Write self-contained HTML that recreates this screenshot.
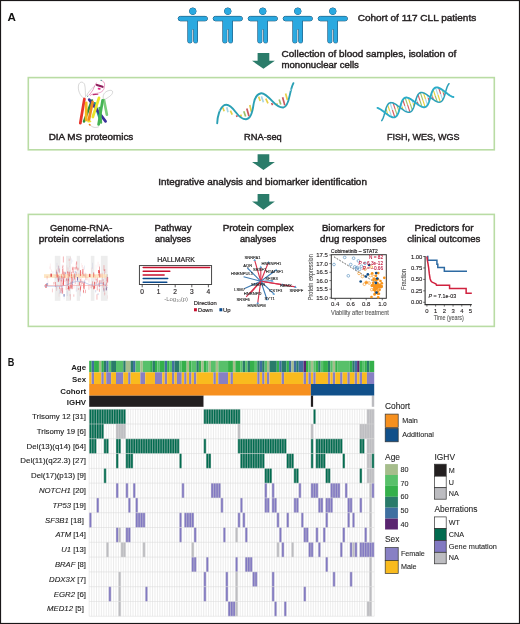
<!DOCTYPE html>
<html><head><meta charset="utf-8"><title>CLL figure</title>
<style>
html,body{margin:0;padding:0;background:#fff;}
body{width:520px;height:624px;overflow:hidden;}
svg{display:block;will-change:transform;}
text{font-family:"Liberation Sans", sans-serif;}
</style></head><body>
<svg width="520" height="624" viewBox="0 0 520 624">

<g id="panelA">
<text x="7.40" y="21.20" font-size="11.6" text-anchor="start" font-weight="bold" font-style="normal" fill="#111" textLength="8.40" lengthAdjust="spacingAndGlyphs">A</text>
<g fill="#2aa9e0" stroke="#184a6c" stroke-width="1.0">
<circle cx="192.80" cy="11.2" r="3.25"/>
<rect x="178.20" y="16.4" width="29.2" height="4.4" rx="2.2"/>
<path d="M187.90,18 L197.40,18 L197.40,41.6 Q197.40,42.8 196.30,42.8 L194.90,42.8 Q193.80,42.8 193.80,41.6 L193.80,29.5 Q192.80,28.3 191.80,29.5 L191.80,41.6 Q191.80,42.8 190.70,42.8 L189.00,42.8 Q187.90,42.8 187.90,41.6 Z"/>
<circle cx="227.80" cy="11.2" r="3.25"/>
<rect x="213.20" y="16.4" width="29.2" height="4.4" rx="2.2"/>
<path d="M222.90,18 L232.40,18 L232.40,41.6 Q232.40,42.8 231.30,42.8 L229.90,42.8 Q228.80,42.8 228.80,41.6 L228.80,29.5 Q227.80,28.3 226.80,29.5 L226.80,41.6 Q226.80,42.8 225.70,42.8 L224.00,42.8 Q222.90,42.8 222.90,41.6 Z"/>
<circle cx="262.80" cy="11.2" r="3.25"/>
<rect x="248.20" y="16.4" width="29.2" height="4.4" rx="2.2"/>
<path d="M257.90,18 L267.40,18 L267.40,41.6 Q267.40,42.8 266.30,42.8 L264.90,42.8 Q263.80,42.8 263.80,41.6 L263.80,29.5 Q262.80,28.3 261.80,29.5 L261.80,41.6 Q261.80,42.8 260.70,42.8 L259.00,42.8 Q257.90,42.8 257.90,41.6 Z"/>
<circle cx="297.80" cy="11.2" r="3.25"/>
<rect x="283.20" y="16.4" width="29.2" height="4.4" rx="2.2"/>
<path d="M292.90,18 L302.40,18 L302.40,41.6 Q302.40,42.8 301.30,42.8 L299.90,42.8 Q298.80,42.8 298.80,41.6 L298.80,29.5 Q297.80,28.3 296.80,29.5 L296.80,41.6 Q296.80,42.8 295.70,42.8 L294.00,42.8 Q292.90,42.8 292.90,41.6 Z"/>
<circle cx="332.80" cy="11.2" r="3.25"/>
<rect x="318.20" y="16.4" width="29.2" height="4.4" rx="2.2"/>
<path d="M327.90,18 L337.40,18 L337.40,41.6 Q337.40,42.8 336.30,42.8 L334.90,42.8 Q333.80,42.8 333.80,41.6 L333.80,29.5 Q332.80,28.3 331.80,29.5 L331.80,41.6 Q331.80,42.8 330.70,42.8 L329.00,42.8 Q327.90,42.8 327.90,41.6 Z"/>
</g>
<g fill="#2aa9e0">
<circle cx="192.80" cy="11.2" r="3.25"/>
<rect x="178.20" y="16.4" width="29.2" height="4.4" rx="2.2"/>
<path d="M187.90,18 L197.40,18 L197.40,41.6 Q197.40,42.8 196.30,42.8 L194.90,42.8 Q193.80,42.8 193.80,41.6 L193.80,29.5 Q192.80,28.3 191.80,29.5 L191.80,41.6 Q191.80,42.8 190.70,42.8 L189.00,42.8 Q187.90,42.8 187.90,41.6 Z"/>
<circle cx="227.80" cy="11.2" r="3.25"/>
<rect x="213.20" y="16.4" width="29.2" height="4.4" rx="2.2"/>
<path d="M222.90,18 L232.40,18 L232.40,41.6 Q232.40,42.8 231.30,42.8 L229.90,42.8 Q228.80,42.8 228.80,41.6 L228.80,29.5 Q227.80,28.3 226.80,29.5 L226.80,41.6 Q226.80,42.8 225.70,42.8 L224.00,42.8 Q222.90,42.8 222.90,41.6 Z"/>
<circle cx="262.80" cy="11.2" r="3.25"/>
<rect x="248.20" y="16.4" width="29.2" height="4.4" rx="2.2"/>
<path d="M257.90,18 L267.40,18 L267.40,41.6 Q267.40,42.8 266.30,42.8 L264.90,42.8 Q263.80,42.8 263.80,41.6 L263.80,29.5 Q262.80,28.3 261.80,29.5 L261.80,41.6 Q261.80,42.8 260.70,42.8 L259.00,42.8 Q257.90,42.8 257.90,41.6 Z"/>
<circle cx="297.80" cy="11.2" r="3.25"/>
<rect x="283.20" y="16.4" width="29.2" height="4.4" rx="2.2"/>
<path d="M292.90,18 L302.40,18 L302.40,41.6 Q302.40,42.8 301.30,42.8 L299.90,42.8 Q298.80,42.8 298.80,41.6 L298.80,29.5 Q297.80,28.3 296.80,29.5 L296.80,41.6 Q296.80,42.8 295.70,42.8 L294.00,42.8 Q292.90,42.8 292.90,41.6 Z"/>
<circle cx="332.80" cy="11.2" r="3.25"/>
<rect x="318.20" y="16.4" width="29.2" height="4.4" rx="2.2"/>
<path d="M327.90,18 L337.40,18 L337.40,41.6 Q337.40,42.8 336.30,42.8 L334.90,42.8 Q333.80,42.8 333.80,41.6 L333.80,29.5 Q332.80,28.3 331.80,29.5 L331.80,41.6 Q331.80,42.8 330.70,42.8 L329.00,42.8 Q327.90,42.8 327.90,41.6 Z"/>
</g>
<text x="357.70" y="21.10" font-size="9.6" text-anchor="start" font-weight="normal" font-style="normal" fill="#231f20" stroke="#231f20" stroke-width="0.42" textLength="118.50" lengthAdjust="spacingAndGlyphs">Cohort of 117 CLL patients</text>
<path d="M257.60,52.90 L269.30,52.90 L269.30,60.80 L274.85,60.80 L263.45,68.80 L252.05,60.80 L257.60,60.80 Z" fill="#2b7c6a"/>
<text x="281.50" y="57.00" font-size="9.2" text-anchor="start" font-weight="normal" font-style="normal" fill="#231f20" stroke="#231f20" stroke-width="0.42" textLength="174.70" lengthAdjust="spacingAndGlyphs">Collection of blood samples, isolation of</text>
<text x="281.50" y="67.60" font-size="9.2" text-anchor="start" font-weight="normal" font-style="normal" fill="#231f20" stroke="#231f20" stroke-width="0.42" textLength="77.40" lengthAdjust="spacingAndGlyphs">mononuclear cells</text>
<rect x="28.3" y="77.6" width="466" height="72.2" fill="none" stroke="#b9dca4" stroke-width="1.6"/>
<text x="48.70" y="140.20" font-size="9.2" text-anchor="start" font-weight="normal" font-style="normal" fill="#231f20" stroke="#231f20" stroke-width="0.42" textLength="84.60" lengthAdjust="spacingAndGlyphs">DIA MS proteomics</text>
<text x="244.10" y="140.20" font-size="9.2" text-anchor="start" font-weight="normal" font-style="normal" fill="#231f20" stroke="#231f20" stroke-width="0.42" textLength="37.70" lengthAdjust="spacingAndGlyphs">RNA-seq</text>
<text x="386.90" y="140.00" font-size="9.2" text-anchor="start" font-weight="normal" font-style="normal" fill="#231f20" stroke="#231f20" stroke-width="0.42" textLength="72.70" lengthAdjust="spacingAndGlyphs">FISH, WES, WGS</text>
<path d="M257.60,154.20 L269.30,154.20 L269.30,162.00 L274.85,162.00 L263.45,170.00 L252.05,162.00 L257.60,162.00 Z" fill="#2b7c6a"/>
<text x="158.30" y="185.40" font-size="9.2" text-anchor="start" font-weight="normal" font-style="normal" fill="#231f20" stroke="#231f20" stroke-width="0.42" textLength="208.60" lengthAdjust="spacingAndGlyphs">Integrative analysis and biomarker identification</text>
<path d="M257.60,193.90 L269.30,193.90 L269.30,201.40 L274.85,201.40 L263.45,209.70 L252.05,201.40 L257.60,201.40 Z" fill="#2b7c6a"/>
<rect x="28.3" y="214.4" width="466" height="112" fill="none" stroke="#b9dca4" stroke-width="1.6"/>
<text x="50.00" y="231.10" font-size="9.6" text-anchor="start" font-weight="normal" font-style="normal" fill="#231f20" stroke="#231f20" stroke-width="0.42" textLength="62.30" lengthAdjust="spacingAndGlyphs">Genome-RNA-</text>
<text x="38.70" y="242.40" font-size="9.6" text-anchor="start" font-weight="normal" font-style="normal" fill="#231f20" stroke="#231f20" stroke-width="0.42" textLength="85.50" lengthAdjust="spacingAndGlyphs">protein correlations</text>
<text x="154.60" y="231.10" font-size="9.6" text-anchor="start" font-weight="normal" font-style="normal" fill="#231f20" stroke="#231f20" stroke-width="0.42" textLength="36.90" lengthAdjust="spacingAndGlyphs">Pathway</text>
<text x="155.00" y="242.40" font-size="9.6" text-anchor="start" font-weight="normal" font-style="normal" fill="#231f20" stroke="#231f20" stroke-width="0.42" textLength="35.80" lengthAdjust="spacingAndGlyphs">analyses</text>
<text x="222.70" y="231.10" font-size="9.6" text-anchor="start" font-weight="normal" font-style="normal" fill="#231f20" stroke="#231f20" stroke-width="0.42" textLength="71.10" lengthAdjust="spacingAndGlyphs">Protein complex</text>
<text x="240.00" y="242.40" font-size="9.6" text-anchor="start" font-weight="normal" font-style="normal" fill="#231f20" stroke="#231f20" stroke-width="0.42" textLength="36.20" lengthAdjust="spacingAndGlyphs">analyses</text>
<text x="321.90" y="231.10" font-size="9.6" text-anchor="start" font-weight="normal" font-style="normal" fill="#231f20" stroke="#231f20" stroke-width="0.42" textLength="62.90" lengthAdjust="spacingAndGlyphs">Biomarkers for</text>
<text x="320.00" y="242.40" font-size="9.6" text-anchor="start" font-weight="normal" font-style="normal" fill="#231f20" stroke="#231f20" stroke-width="0.42" textLength="66.70" lengthAdjust="spacingAndGlyphs">drug responses</text>
<text x="414.60" y="231.10" font-size="9.6" text-anchor="start" font-weight="normal" font-style="normal" fill="#231f20" stroke="#231f20" stroke-width="0.42" textLength="59.10" lengthAdjust="spacingAndGlyphs">Predictors for</text>
<text x="407.30" y="242.40" font-size="9.6" text-anchor="start" font-weight="normal" font-style="normal" fill="#231f20" stroke="#231f20" stroke-width="0.42" textLength="73.10" lengthAdjust="spacingAndGlyphs">clinical outcomes</text>
<g fill="none" stroke="#a8a8a8" stroke-width="0.45">
<path d="M84.2,98.6 C80,96 77.5,90 78.6,85 C79.6,81 83.5,81.5 84.6,84.5 C85.6,88 85.2,93 85.6,97.5"/>
<path d="M103.5,99.6 C102.5,96 103.5,93 107,91.2 C110,89.8 113,90 112.6,92.5 C112,95.5 108,97.5 104.8,99.5"/>
<path d="M89.8,124.6 C92,127.6 96,128.2 99,126.6"/>
<path d="M86.5,96 C88,92 92,88 95,86"/>
</g>
<g fill="none" stroke="#d2307f" stroke-width="0.45">
<path d="M100.6,80.3 C103,80.8 105,82.5 104.6,85 C104.3,87.5 104.2,89 103,90.5 C101.5,92.2 99.5,93 96.5,93.4 C93.5,93.8 91.5,94.2 90,95.6"/>
<path d="M96.5,82.6 C95,85 94,87.5 93,89.8 C91.8,92 90,94 88.5,95.6"/>
</g>
<path d="M96.9,84.9 L102.6,86.8" stroke="#8e1d5c" stroke-width="2.1" stroke-linecap="round"/>
<path d="M98.6,88.6 L99.8,88.9" stroke="#e2288a" stroke-width="1.8" stroke-linecap="round"/>
<path d="M93.2,94.6 L97.8,94.2" stroke="#b8306e" stroke-width="1.1" stroke-linecap="round"/>
<circle cx="101.2" cy="80.4" r="0.55" fill="#2a9a8a"/>
<circle cx="87.6" cy="96.2" r="0.55" fill="#2a9a8a"/>
<line x1="92.0" y1="100.5" x2="84.0" y2="121.5" stroke="#2f8e3c" stroke-width="2.45" stroke-linecap="round"/>
<line x1="104.0" y1="100.0" x2="106.9" y2="114.7" stroke="#7ccd7c" stroke-width="2.65" stroke-linecap="round"/>
<line x1="94.8" y1="103.2" x2="99.6" y2="118.0" stroke="#1f9a86" stroke-width="2.45" stroke-linecap="round"/>
<line x1="89.2" y1="99.6" x2="105.6" y2="121.4" stroke="#3a2f9c" stroke-width="2.65" stroke-linecap="round"/>
<line x1="99.6" y1="108.0" x2="101.0" y2="122.5" stroke="#4cb25a" stroke-width="2.45" stroke-linecap="round"/>
<line x1="84.4" y1="99.0" x2="80.3" y2="123.2" stroke="#e8352b" stroke-width="2.75" stroke-linecap="round"/>
<line x1="86.2" y1="102.8" x2="86.2" y2="120.0" stroke="#f4b71c" stroke-width="2.75" stroke-linecap="round"/>
<line x1="92.6" y1="102.0" x2="88.7" y2="120.6" stroke="#ee8a1e" stroke-width="2.75" stroke-linecap="round"/>
<line x1="99.0" y1="97.8" x2="92.8" y2="117.0" stroke="#e9e52c" stroke-width="2.75" stroke-linecap="round"/>
<line x1="102.6" y1="100.3" x2="98.6" y2="124.4" stroke="#44b453" stroke-width="2.75" stroke-linecap="round"/>
<line x1="88.2" y1="121.6" x2="90.4" y2="121.4" stroke="#f0e030" stroke-width="1.8" stroke-linecap="round"/>
<line x1="89.5" y1="124.6" x2="89.9" y2="124.9" stroke="#ee7a1e" stroke-width="1.6" stroke-linecap="round"/>
<line x1="222.6" y1="107.2" x2="224.2" y2="111.2" stroke="#e6cf48" stroke-width="1.7" stroke-linecap="butt"/>
<line x1="226.8" y1="107.2" x2="228.0" y2="112.2" stroke="#a6d6e6" stroke-width="1.7" stroke-linecap="butt"/>
<line x1="230.4" y1="110.6" x2="232.2" y2="114.6" stroke="#e6cf48" stroke-width="1.7" stroke-linecap="butt"/>
<line x1="236.4" y1="115.4" x2="237.2" y2="116.8" stroke="#c8585e" stroke-width="1.7" stroke-linecap="butt"/>
<line x1="240.6" y1="114.6" x2="241.4" y2="116.8" stroke="#e6cf48" stroke-width="1.7" stroke-linecap="butt"/>
<line x1="243.8" y1="111.2" x2="245.6" y2="116.6" stroke="#9cbf6a" stroke-width="1.7" stroke-linecap="butt"/>
<line x1="246.8" y1="108.4" x2="249.0" y2="116.2" stroke="#c8585e" stroke-width="1.7" stroke-linecap="butt"/>
<line x1="249.8" y1="105.0" x2="251.4" y2="111.8" stroke="#e6cf48" stroke-width="1.7" stroke-linecap="butt"/>
<line x1="258.6" y1="96.6" x2="260.2" y2="101.0" stroke="#e6cf48" stroke-width="1.7" stroke-linecap="butt"/>
<line x1="261.4" y1="96.4" x2="263.4" y2="102.2" stroke="#a6d6e6" stroke-width="1.7" stroke-linecap="butt"/>
<line x1="265.8" y1="98.6" x2="268.0" y2="103.4" stroke="#e6cf48" stroke-width="1.7" stroke-linecap="butt"/>
<line x1="271.6" y1="103.0" x2="272.6" y2="105.2" stroke="#c8585e" stroke-width="1.7" stroke-linecap="butt"/>
<line x1="276.6" y1="103.4" x2="277.4" y2="105.0" stroke="#e6cf48" stroke-width="1.7" stroke-linecap="butt"/>
<line x1="279.2" y1="99.4" x2="280.8" y2="104.6" stroke="#9cbf6a" stroke-width="1.7" stroke-linecap="butt"/>
<line x1="282.6" y1="97.2" x2="284.8" y2="105.4" stroke="#c8585e" stroke-width="1.7" stroke-linecap="butt"/>
<line x1="285.6" y1="93.6" x2="287.4" y2="100.0" stroke="#e6cf48" stroke-width="1.7" stroke-linecap="butt"/>
<path d="M217.2,123.2 C217.4,117 219.5,108 224.2,105.2 C228,103.2 232,107 235.8,112.2 C239,116.5 242,119.4 246.2,119.2 C250.5,119 252.6,112 253.6,104 C254.4,98.5 257,94 261.2,93.2 C264.5,92.8 268,96.5 272.3,101.1 C275.5,104.6 279,107.8 283.4,107.5 C287,107.2 288.6,101 289.9,94.6 C290.8,90.5 291.8,86.5 293.4,83.2" fill="none" stroke="#2aa0b4" stroke-width="1.9" stroke-linecap="round"/>
<path d="M218.6,111.6 L219.4,110" stroke="#a6d6e6" stroke-width="1" />
<path d="M290.4,90.8 L291.2,88.8" stroke="#a6d6e6" stroke-width="1" />
<line x1="387.96" y1="114.89" x2="386.94" y2="111.82" stroke="#e9d03a" stroke-width="1.15"/>
<line x1="386.94" y1="111.82" x2="385.91" y2="108.76" stroke="#9cc46c" stroke-width="1.15"/>
<line x1="391.70" y1="117.00" x2="389.67" y2="110.91" stroke="#a8d8ea" stroke-width="1.15"/>
<line x1="389.67" y1="110.91" x2="387.64" y2="104.83" stroke="#e9d03a" stroke-width="1.15"/>
<line x1="394.81" y1="117.21" x2="392.40" y2="110.00" stroke="#d85a5f" stroke-width="1.15"/>
<line x1="392.40" y1="110.00" x2="389.99" y2="102.79" stroke="#a8d8ea" stroke-width="1.15"/>
<line x1="397.16" y1="115.17" x2="395.13" y2="109.09" stroke="#9cc46c" stroke-width="1.15"/>
<line x1="395.13" y1="109.09" x2="393.10" y2="103.00" stroke="#d85a5f" stroke-width="1.15"/>
<line x1="398.89" y1="111.24" x2="397.86" y2="108.18" stroke="#e9d03a" stroke-width="1.15"/>
<line x1="397.86" y1="108.18" x2="396.84" y2="105.11" stroke="#9cc46c" stroke-width="1.15"/>
<line x1="401.09" y1="103.69" x2="402.11" y2="106.76" stroke="#a8d8ea" stroke-width="1.15"/>
<line x1="402.11" y1="106.76" x2="403.14" y2="109.83" stroke="#e9d03a" stroke-width="1.15"/>
<line x1="402.81" y1="99.76" x2="404.84" y2="105.84" stroke="#d85a5f" stroke-width="1.15"/>
<line x1="404.84" y1="105.84" x2="406.88" y2="111.93" stroke="#a8d8ea" stroke-width="1.15"/>
<line x1="405.17" y1="97.72" x2="407.58" y2="104.93" stroke="#9cc46c" stroke-width="1.15"/>
<line x1="407.58" y1="104.93" x2="409.98" y2="112.14" stroke="#d85a5f" stroke-width="1.15"/>
<line x1="408.27" y1="97.93" x2="410.31" y2="104.02" stroke="#e9d03a" stroke-width="1.15"/>
<line x1="410.31" y1="104.02" x2="412.34" y2="110.11" stroke="#9cc46c" stroke-width="1.15"/>
<line x1="412.01" y1="100.04" x2="413.04" y2="103.11" stroke="#a8d8ea" stroke-width="1.15"/>
<line x1="413.04" y1="103.11" x2="414.06" y2="106.18" stroke="#e9d03a" stroke-width="1.15"/>
<line x1="418.31" y1="104.76" x2="417.29" y2="101.69" stroke="#d85a5f" stroke-width="1.15"/>
<line x1="417.29" y1="101.69" x2="416.26" y2="98.62" stroke="#a8d8ea" stroke-width="1.15"/>
<line x1="422.05" y1="106.86" x2="420.02" y2="100.77" stroke="#9cc46c" stroke-width="1.15"/>
<line x1="420.02" y1="100.77" x2="417.99" y2="94.69" stroke="#d85a5f" stroke-width="1.15"/>
<line x1="425.16" y1="107.07" x2="422.75" y2="99.86" stroke="#e9d03a" stroke-width="1.15"/>
<line x1="422.75" y1="99.86" x2="420.34" y2="92.65" stroke="#9cc46c" stroke-width="1.15"/>
<line x1="427.52" y1="105.04" x2="425.48" y2="98.95" stroke="#a8d8ea" stroke-width="1.15"/>
<line x1="425.48" y1="98.95" x2="423.45" y2="92.86" stroke="#e9d03a" stroke-width="1.15"/>
<line x1="429.24" y1="101.11" x2="428.22" y2="98.04" stroke="#d85a5f" stroke-width="1.15"/>
<line x1="428.22" y1="98.04" x2="427.19" y2="94.97" stroke="#a8d8ea" stroke-width="1.15"/>
<line x1="431.44" y1="93.55" x2="432.46" y2="96.62" stroke="#9cc46c" stroke-width="1.15"/>
<line x1="432.46" y1="96.62" x2="433.49" y2="99.69" stroke="#d85a5f" stroke-width="1.15"/>
<line x1="433.16" y1="89.62" x2="435.20" y2="95.71" stroke="#e9d03a" stroke-width="1.15"/>
<line x1="435.20" y1="95.71" x2="437.23" y2="101.79" stroke="#9cc46c" stroke-width="1.15"/>
<line x1="435.52" y1="87.58" x2="437.93" y2="94.79" stroke="#a8d8ea" stroke-width="1.15"/>
<line x1="437.93" y1="94.79" x2="440.34" y2="102.00" stroke="#e9d03a" stroke-width="1.15"/>
<line x1="438.63" y1="87.79" x2="440.66" y2="93.88" stroke="#d85a5f" stroke-width="1.15"/>
<line x1="440.66" y1="93.88" x2="442.69" y2="99.97" stroke="#a8d8ea" stroke-width="1.15"/>
<line x1="442.37" y1="89.90" x2="443.39" y2="92.97" stroke="#9cc46c" stroke-width="1.15"/>
<line x1="443.39" y1="92.97" x2="444.42" y2="96.04" stroke="#d85a5f" stroke-width="1.15"/>
<path d="M381.72,120.63 L382.16,119.97 L382.57,119.21 L382.95,118.37 L383.31,117.46 L383.65,116.49 L383.98,115.48 L384.29,114.42 L384.59,113.34 L384.89,112.25 L385.19,111.17 L385.50,110.10 L385.81,109.06 L386.14,108.07 L386.49,107.13 L386.87,106.25 L387.26,105.46 L387.69,104.75 L388.15,104.13 L388.64,103.61 L389.16,103.20 L389.72,102.89 L390.32,102.70 L390.96,102.61 L391.63,102.64 L392.33,102.76 L393.07,102.99 L393.84,103.31 L394.64,103.72 L395.47,104.20 L396.31,104.74 L397.18,105.34 L398.05,105.99 L398.94,106.66 L399.83,107.35 L400.73,108.04 L401.62,108.72 L402.50,109.37 L403.37,109.99 L404.22,110.55 L405.05,111.06 L405.86,111.49 L406.64,111.84 L407.39,112.10 L408.11,112.26 L408.79,112.32 L409.44,112.27 L410.05,112.12 L410.62,111.85 L411.16,111.47 L411.67,110.99 L412.13,110.41 L412.57,109.73 L412.98,108.96 L413.36,108.11 L413.71,107.20 L414.05,106.22 L414.37,105.19 L414.68,104.13 L414.98,103.05 L415.28,101.96 L415.58,100.88 L415.89,99.82 L416.21,98.78 L416.54,97.79 L416.90,96.86 L417.27,96.00 L417.67,95.21 L418.10,94.52 L418.56,93.91 L419.06,93.41 L419.59,93.01 L420.16,92.72 L420.76,92.54 L421.40,92.47 L422.08,92.51 L422.79,92.65 L423.53,92.89 L424.30,93.23 L425.11,93.64 L425.93,94.13 L426.78,94.69 L427.65,95.29 L428.53,95.94 L429.42,96.62 L430.31,97.31 L431.20,97.99 L432.09,98.67 L432.97,99.32 L433.84,99.93 L434.69,100.49 L435.52,100.98 L436.32,101.41 L437.10,101.74 L437.85,101.99 L438.56,102.14 L439.24,102.18 L439.88,102.12 L440.48,101.95 L441.05,101.67 L441.59,101.28 L442.08,100.78 L442.55,100.18 L442.98,99.49 L443.38,98.71 L443.76,97.85 L444.11,96.93 L444.45,95.94 L444.77,94.91 L445.08,93.85 L445.38,92.76 L445.68,91.67 L445.98,90.59 L446.29,89.53 L446.61,88.50 L446.94,87.52 L447.30,86.60 L447.68,85.75 L448.08,84.97 L448.52,84.29 L448.98,83.70" fill="none" stroke="#2a9fb8" stroke-width="1.5" stroke-linecap="round" stroke-linejoin="round"/>
<path d="M377.47,107.92 L378.22,108.19 L379.01,108.54 L379.82,108.98 L380.65,109.49 L381.51,110.07 L382.38,110.69 L383.26,111.34 L384.15,112.02 L385.04,112.71 L385.94,113.40 L386.82,114.07 L387.70,114.71 L388.56,115.31 L389.41,115.85 L390.23,116.32 L391.02,116.72 L391.79,117.03 L392.53,117.25 L393.23,117.37 L393.90,117.38 L394.53,117.29 L395.13,117.08 L395.68,116.77 L396.21,116.35 L396.70,115.82 L397.15,115.20 L397.57,114.48 L397.97,113.67 L398.34,112.80 L398.68,111.85 L399.01,110.85 L399.33,109.81 L399.64,108.74 L399.94,107.65 L400.24,106.56 L400.54,105.49 L400.85,104.43 L401.18,103.42 L401.52,102.45 L401.88,101.55 L402.26,100.72 L402.68,99.97 L403.12,99.31 L403.60,98.75 L404.11,98.29 L404.65,97.94 L405.24,97.70 L405.85,97.57 L406.51,97.55 L407.20,97.63 L407.93,97.81 L408.68,98.09 L409.47,98.46 L410.28,98.91 L411.12,99.43 L411.98,100.01 L412.85,100.64 L413.73,101.30 L414.63,101.98 L415.52,102.67 L416.41,103.36 L417.30,104.02 L418.17,104.66 L419.03,105.25 L419.87,105.78 L420.69,106.24 L421.49,106.63 L422.25,106.93 L422.98,107.14 L423.68,107.24 L424.34,107.24 L424.97,107.13 L425.56,106.91 L426.11,106.58 L426.63,106.14 L427.11,105.60 L427.56,104.97 L427.98,104.23 L428.37,103.42 L428.74,102.53 L429.08,101.58 L429.41,100.57 L429.73,99.52 L430.03,98.45 L430.33,97.36 L430.63,96.28 L430.93,95.20 L431.25,94.15 L431.57,93.14 L431.92,92.19 L432.28,91.29 L432.67,90.47 L433.09,89.74 L433.54,89.09 L434.02,88.54 L434.53,88.10 L435.08,87.76 L435.67,87.54 L436.30,87.42 L436.96,87.41 L437.65,87.51 L438.38,87.71 L439.14,88.00 L439.93,88.38 L440.75,88.84 L441.59,89.37 L442.45,89.96 L443.32,90.59 L444.21,91.25 L445.10,91.94 L446.00,92.63 L446.89,93.31 L447.77,93.98 L448.65,94.60 L449.50,95.19 L450.34,95.71 L451.16,96.16 L451.94,96.54 L452.70,96.83 L453.43,97.02" fill="none" stroke="#2bacc8" stroke-width="1.9" stroke-linecap="round" stroke-linejoin="round"/>
<rect x="54.8" y="255.8" width="5.60" height="45" fill="#ededed"/>
<rect x="66.0" y="255.8" width="5.00" height="45" fill="#ededed"/>
<rect x="76.7" y="255.8" width="3.30" height="45" fill="#ededed"/>
<rect x="90.8" y="255.8" width="3.60" height="45" fill="#ededed"/>
<rect x="100.9" y="255.8" width="6.70" height="45" fill="#ededed"/>
<rect x="44" y="274.2" width="63.6" height="3.7" fill="#fde6c4"/>
<rect x="59.53" y="275.97" width="0.63" height="4.45" fill="#e3262c" opacity="0.28"/>
<rect x="68.01" y="276.54" width="0.50" height="1.88" fill="#e3262c" opacity="0.52"/>
<rect x="61.70" y="264.13" width="0.65" height="4.67" fill="#6470b8" opacity="0.08"/>
<rect x="62.75" y="264.90" width="0.51" height="2.29" fill="#e3262c" opacity="0.51"/>
<rect x="72.45" y="272.78" width="0.48" height="4.51" fill="#e3262c" opacity="0.13"/>
<rect x="98.63" y="272.47" width="0.74" height="3.23" fill="#e3262c" opacity="0.17"/>
<rect x="88.54" y="278.19" width="0.89" height="4.39" fill="#e3262c" opacity="0.16"/>
<rect x="51.94" y="288.55" width="0.83" height="3.80" fill="#e3262c" opacity="0.27"/>
<rect x="75.05" y="277.80" width="0.61" height="6.32" fill="#e3262c" opacity="0.34"/>
<rect x="99.07" y="266.55" width="0.92" height="6.12" fill="#e3262c" opacity="0.39"/>
<rect x="76.04" y="261.79" width="0.59" height="6.02" fill="#e3262c" opacity="0.40"/>
<rect x="68.85" y="258.64" width="0.51" height="2.42" fill="#e3262c" opacity="0.47"/>
<rect x="62.43" y="266.48" width="0.67" height="1.94" fill="#e3262c" opacity="0.57"/>
<rect x="98.93" y="288.74" width="0.66" height="3.03" fill="#e3262c" opacity="0.57"/>
<rect x="54.01" y="281.21" width="0.69" height="2.78" fill="#e3262c" opacity="0.15"/>
<rect x="67.57" y="283.43" width="0.73" height="3.53" fill="#6470b8" opacity="0.33"/>
<rect x="73.53" y="275.58" width="0.84" height="6.45" fill="#6470b8" opacity="0.39"/>
<rect x="66.97" y="276.58" width="0.77" height="2.07" fill="#e3262c" opacity="0.09"/>
<rect x="59.87" y="277.84" width="0.53" height="1.50" fill="#e3262c" opacity="0.20"/>
<rect x="81.23" y="279.78" width="0.52" height="4.88" fill="#e3262c" opacity="0.19"/>
<rect x="58.69" y="292.67" width="0.69" height="4.06" fill="#e3262c" opacity="0.10"/>
<rect x="62.94" y="256.45" width="0.53" height="6.06" fill="#e3262c" opacity="0.63"/>
<rect x="59.40" y="275.99" width="0.94" height="4.40" fill="#6470b8" opacity="0.33"/>
<rect x="66.00" y="278.29" width="0.84" height="2.42" fill="#e3262c" opacity="0.48"/>
<rect x="61.69" y="285.64" width="0.85" height="6.19" fill="#6470b8" opacity="0.36"/>
<rect x="70.53" y="256.81" width="0.46" height="3.46" fill="#e3262c" opacity="0.16"/>
<rect x="75.78" y="285.06" width="0.94" height="6.65" fill="#6470b8" opacity="0.17"/>
<rect x="61.81" y="276.36" width="0.55" height="2.58" fill="#e3262c" opacity="0.59"/>
<rect x="74.71" y="270.80" width="0.78" height="1.97" fill="#6470b8" opacity="0.38"/>
<rect x="74.62" y="267.00" width="0.84" height="2.48" fill="#e3262c" opacity="0.50"/>
<rect x="69.44" y="261.48" width="0.54" height="5.49" fill="#e3262c" opacity="0.11"/>
<rect x="95.31" y="290.10" width="0.86" height="2.30" fill="#6470b8" opacity="0.31"/>
<rect x="71.46" y="277.50" width="0.77" height="6.84" fill="#e3262c" opacity="0.62"/>
<rect x="81.15" y="277.97" width="0.56" height="6.04" fill="#e3262c" opacity="0.16"/>
<rect x="72.59" y="278.40" width="0.91" height="2.22" fill="#e3262c" opacity="0.25"/>
<rect x="106.02" y="286.42" width="0.91" height="3.81" fill="#e3262c" opacity="0.30"/>
<rect x="55.56" y="274.51" width="0.85" height="1.52" fill="#e3262c" opacity="0.26"/>
<rect x="100.63" y="280.22" width="0.71" height="3.29" fill="#e3262c" opacity="0.49"/>
<rect x="71.81" y="277.19" width="0.70" height="5.75" fill="#e3262c" opacity="0.47"/>
<rect x="72.42" y="284.01" width="0.70" height="4.87" fill="#e3262c" opacity="0.41"/>
<rect x="71.00" y="258.45" width="0.89" height="5.35" fill="#6470b8" opacity="0.13"/>
<rect x="106.62" y="279.56" width="0.52" height="6.12" fill="#e3262c" opacity="0.24"/>
<rect x="62.22" y="287.76" width="0.90" height="5.81" fill="#e3262c" opacity="0.43"/>
<rect x="94.22" y="282.10" width="0.93" height="6.36" fill="#e3262c" opacity="0.64"/>
<rect x="69.62" y="293.90" width="0.67" height="2.39" fill="#e3262c" opacity="0.19"/>
<rect x="64.56" y="276.30" width="0.46" height="5.47" fill="#e3262c" opacity="0.24"/>
<rect x="64.94" y="272.25" width="0.94" height="1.85" fill="#6470b8" opacity="0.51"/>
<rect x="62.97" y="272.41" width="0.84" height="1.72" fill="#e3262c" opacity="0.10"/>
<rect x="82.34" y="281.44" width="0.91" height="2.32" fill="#e3262c" opacity="0.42"/>
<rect x="56.73" y="271.74" width="0.66" height="5.29" fill="#e3262c" opacity="0.62"/>
<rect x="104.43" y="292.69" width="0.88" height="1.87" fill="#e3262c" opacity="0.19"/>
<rect x="106.36" y="286.43" width="0.51" height="2.97" fill="#e3262c" opacity="0.14"/>
<rect x="59.84" y="283.50" width="0.60" height="3.22" fill="#6470b8" opacity="0.14"/>
<rect x="60.34" y="279.97" width="0.46" height="3.41" fill="#e3262c" opacity="0.08"/>
<rect x="100.54" y="280.05" width="0.50" height="6.64" fill="#6470b8" opacity="0.20"/>
<rect x="80.04" y="286.60" width="0.70" height="3.66" fill="#e3262c" opacity="0.66"/>
<rect x="79.97" y="275.08" width="0.62" height="3.73" fill="#e3262c" opacity="0.10"/>
<rect x="77.23" y="267.59" width="0.53" height="2.91" fill="#e3262c" opacity="0.54"/>
<rect x="86.74" y="277.26" width="0.68" height="3.11" fill="#e3262c" opacity="0.24"/>
<rect x="83.85" y="282.41" width="0.72" height="6.85" fill="#e3262c" opacity="0.65"/>
<rect x="65.70" y="285.79" width="0.70" height="4.11" fill="#e3262c" opacity="0.28"/>
<rect x="62.93" y="279.06" width="0.65" height="1.99" fill="#e3262c" opacity="0.08"/>
<rect x="61.98" y="268.75" width="0.78" height="5.63" fill="#e3262c" opacity="0.57"/>
<rect x="64.78" y="271.51" width="0.52" height="6.92" fill="#e3262c" opacity="0.38"/>
<rect x="80.06" y="285.98" width="0.86" height="5.54" fill="#e3262c" opacity="0.29"/>
<rect x="80.05" y="269.98" width="0.86" height="5.93" fill="#e3262c" opacity="0.58"/>
<rect x="102.75" y="279.14" width="0.63" height="2.23" fill="#e3262c" opacity="0.53"/>
<rect x="101.73" y="279.52" width="0.79" height="4.94" fill="#e3262c" opacity="0.08"/>
<rect x="91.64" y="267.54" width="0.48" height="5.13" fill="#e3262c" opacity="0.15"/>
<rect x="62.97" y="277.06" width="0.55" height="5.51" fill="#e3262c" opacity="0.66"/>
<rect x="66.48" y="265.11" width="0.76" height="5.72" fill="#e3262c" opacity="0.09"/>
<rect x="62.62" y="278.80" width="0.60" height="5.59" fill="#e3262c" opacity="0.08"/>
<rect x="63.06" y="271.61" width="0.60" height="5.22" fill="#e3262c" opacity="0.26"/>
<rect x="58.56" y="265.96" width="0.55" height="6.42" fill="#6470b8" opacity="0.48"/>
<rect x="68.77" y="286.94" width="0.58" height="3.97" fill="#e3262c" opacity="0.63"/>
<rect x="72.44" y="259.85" width="0.71" height="2.28" fill="#6470b8" opacity="0.10"/>
<rect x="76.55" y="288.06" width="0.90" height="2.77" fill="#e3262c" opacity="0.08"/>
<rect x="69.75" y="269.87" width="0.60" height="3.98" fill="#e3262c" opacity="0.19"/>
<rect x="80.21" y="290.28" width="0.51" height="6.12" fill="#6470b8" opacity="0.34"/>
<rect x="62.76" y="278.37" width="0.65" height="3.55" fill="#6470b8" opacity="0.27"/>
<rect x="67.84" y="278.57" width="0.87" height="2.06" fill="#e3262c" opacity="0.62"/>
<rect x="62.97" y="280.33" width="0.54" height="4.31" fill="#e3262c" opacity="0.64"/>
<rect x="95.65" y="264.62" width="0.72" height="6.67" fill="#e3262c" opacity="0.08"/>
<rect x="98.99" y="264.21" width="0.77" height="5.64" fill="#e3262c" opacity="0.08"/>
<rect x="52.52" y="271.20" width="0.82" height="3.14" fill="#6470b8" opacity="0.13"/>
<rect x="96.66" y="278.99" width="0.65" height="4.57" fill="#e3262c" opacity="0.11"/>
<rect x="82.18" y="271.12" width="0.95" height="6.48" fill="#e3262c" opacity="0.11"/>
<rect x="57.72" y="278.41" width="0.50" height="3.38" fill="#e3262c" opacity="0.15"/>
<rect x="105.75" y="278.09" width="0.71" height="3.78" fill="#e3262c" opacity="0.19"/>
<rect x="63.33" y="268.33" width="0.51" height="6.82" fill="#e3262c" opacity="0.37"/>
<rect x="58.11" y="277.35" width="0.67" height="3.70" fill="#6470b8" opacity="0.43"/>
<rect x="45.87" y="285.16" width="0.80" height="1.68" fill="#6470b8" opacity="0.22"/>
<rect x="92.00" y="262.77" width="0.88" height="6.04" fill="#6470b8" opacity="0.13"/>
<rect x="59.63" y="289.34" width="0.79" height="4.37" fill="#6470b8" opacity="0.35"/>
<rect x="103.85" y="269.37" width="0.84" height="1.72" fill="#e3262c" opacity="0.60"/>
<rect x="96.71" y="281.58" width="0.58" height="2.20" fill="#e3262c" opacity="0.42"/>
<rect x="57.11" y="267.73" width="0.56" height="3.63" fill="#e3262c" opacity="0.08"/>
<rect x="68.82" y="274.99" width="0.77" height="6.77" fill="#6470b8" opacity="0.22"/>
<rect x="62.41" y="290.52" width="0.46" height="3.19" fill="#e3262c" opacity="0.40"/>
<rect x="62.72" y="274.35" width="0.91" height="5.17" fill="#e3262c" opacity="0.08"/>
<rect x="67.62" y="274.87" width="0.82" height="5.88" fill="#e3262c" opacity="0.13"/>
<rect x="64.14" y="272.15" width="0.57" height="6.01" fill="#e3262c" opacity="0.47"/>
<rect x="83.56" y="273.49" width="0.66" height="2.73" fill="#e3262c" opacity="0.63"/>
<rect x="66.80" y="278.80" width="0.94" height="2.67" fill="#e3262c" opacity="0.09"/>
<rect x="66.80" y="290.54" width="0.95" height="5.53" fill="#6470b8" opacity="0.16"/>
<rect x="83.08" y="267.29" width="0.47" height="5.60" fill="#e3262c" opacity="0.21"/>
<rect x="64.95" y="278.78" width="0.63" height="3.04" fill="#6470b8" opacity="0.10"/>
<rect x="57.57" y="278.80" width="0.86" height="3.46" fill="#6470b8" opacity="0.20"/>
<rect x="69.20" y="266.20" width="0.63" height="2.56" fill="#6470b8" opacity="0.08"/>
<rect x="79.35" y="290.02" width="0.47" height="5.72" fill="#e3262c" opacity="0.09"/>
<rect x="60.69" y="278.03" width="0.59" height="3.36" fill="#6470b8" opacity="0.29"/>
<rect x="76.50" y="261.27" width="0.59" height="3.24" fill="#e3262c" opacity="0.46"/>
<rect x="84.44" y="280.27" width="0.69" height="2.79" fill="#6470b8" opacity="0.50"/>
<rect x="62.53" y="277.45" width="0.70" height="3.86" fill="#6470b8" opacity="0.11"/>
<rect x="91.02" y="283.66" width="0.61" height="4.84" fill="#e3262c" opacity="0.20"/>
<rect x="49.48" y="266.35" width="0.83" height="2.59" fill="#e3262c" opacity="0.09"/>
<rect x="71.58" y="266.55" width="0.94" height="6.36" fill="#e3262c" opacity="0.09"/>
<rect x="69.95" y="294.30" width="0.67" height="5.40" fill="#e3262c" opacity="0.23"/>
<rect x="102.45" y="277.23" width="0.51" height="5.15" fill="#6470b8" opacity="0.14"/>
<rect x="97.78" y="261.72" width="0.55" height="5.56" fill="#e3262c" opacity="0.14"/>
<rect x="81.53" y="271.89" width="0.95" height="3.68" fill="#e3262c" opacity="0.14"/>
<rect x="85.66" y="273.17" width="0.50" height="6.95" fill="#e3262c" opacity="0.52"/>
<rect x="102.11" y="285.38" width="0.54" height="2.16" fill="#6470b8" opacity="0.27"/>
<rect x="67.95" y="278.54" width="0.67" height="6.26" fill="#e3262c" opacity="0.48"/>
<rect x="51.16" y="269.49" width="0.63" height="2.70" fill="#e3262c" opacity="0.13"/>
<rect x="72.98" y="271.14" width="0.55" height="5.08" fill="#e3262c" opacity="0.18"/>
<rect x="94.87" y="275.01" width="0.72" height="5.87" fill="#e3262c" opacity="0.10"/>
<rect x="71.50" y="282.48" width="0.50" height="5.02" fill="#e3262c" opacity="0.42"/>
<rect x="63.50" y="271.38" width="0.73" height="3.22" fill="#e3262c" opacity="0.23"/>
<rect x="107.29" y="295.25" width="0.55" height="3.50" fill="#e3262c" opacity="0.13"/>
<rect x="82.05" y="264.98" width="0.89" height="3.73" fill="#e3262c" opacity="0.11"/>
<rect x="71.55" y="284.32" width="0.90" height="5.02" fill="#e3262c" opacity="0.36"/>
<rect x="70.13" y="281.79" width="0.91" height="4.37" fill="#e3262c" opacity="0.27"/>
<rect x="105.41" y="283.89" width="0.51" height="2.59" fill="#6470b8" opacity="0.51"/>
<rect x="56.60" y="283.85" width="0.76" height="6.47" fill="#6470b8" opacity="0.10"/>
<rect x="58.49" y="274.59" width="0.87" height="3.72" fill="#6470b8" opacity="0.11"/>
<rect x="66.99" y="271.09" width="0.57" height="2.18" fill="#e3262c" opacity="0.58"/>
<rect x="71.87" y="276.28" width="0.47" height="5.67" fill="#6470b8" opacity="0.09"/>
<rect x="100.53" y="273.32" width="0.74" height="3.81" fill="#e3262c" opacity="0.39"/>
<rect x="68.15" y="274.29" width="0.76" height="1.63" fill="#e3262c" opacity="0.14"/>
<rect x="93.64" y="273.09" width="0.50" height="4.10" fill="#e3262c" opacity="0.24"/>
<rect x="68.26" y="279.15" width="0.47" height="4.31" fill="#e3262c" opacity="0.09"/>
<rect x="104.05" y="275.20" width="0.64" height="4.27" fill="#6470b8" opacity="0.10"/>
<rect x="107.26" y="277.04" width="0.86" height="5.53" fill="#e3262c" opacity="0.66"/>
<rect x="83.70" y="281.23" width="0.92" height="5.84" fill="#e3262c" opacity="0.19"/>
<rect x="54.50" y="274.37" width="0.59" height="6.43" fill="#6470b8" opacity="0.10"/>
<rect x="82.60" y="279.48" width="0.61" height="4.28" fill="#e3262c" opacity="0.12"/>
<rect x="83.09" y="283.42" width="0.90" height="5.24" fill="#e3262c" opacity="0.49"/>
<rect x="70.92" y="271.90" width="0.73" height="6.30" fill="#e3262c" opacity="0.57"/>
<rect x="84.79" y="271.81" width="0.65" height="4.96" fill="#6470b8" opacity="0.13"/>
<rect x="80.87" y="269.34" width="0.54" height="3.93" fill="#e3262c" opacity="0.08"/>
<rect x="60.48" y="287.96" width="0.94" height="5.02" fill="#e3262c" opacity="0.39"/>
<rect x="55.05" y="282.00" width="0.67" height="4.89" fill="#e3262c" opacity="0.58"/>
<rect x="61.82" y="278.41" width="0.46" height="5.09" fill="#e3262c" opacity="0.19"/>
<rect x="65.71" y="279.34" width="0.55" height="4.74" fill="#e3262c" opacity="0.26"/>
<rect x="83.10" y="289.03" width="0.52" height="2.84" fill="#e3262c" opacity="0.37"/>
<rect x="93.78" y="274.10" width="0.77" height="1.56" fill="#e3262c" opacity="0.19"/>
<rect x="98.88" y="280.29" width="0.82" height="6.65" fill="#e3262c" opacity="0.59"/>
<rect x="70.95" y="274.19" width="0.84" height="1.82" fill="#e3262c" opacity="0.31"/>
<rect x="53.46" y="281.98" width="0.75" height="2.60" fill="#e3262c" opacity="0.37"/>
<rect x="55.50" y="276.65" width="0.89" height="1.77" fill="#6470b8" opacity="0.34"/>
<rect x="80.33" y="283.50" width="0.68" height="5.60" fill="#e3262c" opacity="0.25"/>
<rect x="58.16" y="278.58" width="0.82" height="3.35" fill="#e3262c" opacity="0.54"/>
<rect x="96.12" y="279.96" width="0.67" height="4.55" fill="#6470b8" opacity="0.24"/>
<rect x="74.26" y="282.29" width="0.46" height="6.34" fill="#e3262c" opacity="0.14"/>
<rect x="106.64" y="275.98" width="0.61" height="5.60" fill="#6470b8" opacity="0.16"/>
<rect x="82.23" y="269.05" width="0.94" height="5.16" fill="#e3262c" opacity="0.53"/>
<rect x="105.29" y="269.05" width="0.81" height="3.90" fill="#e3262c" opacity="0.17"/>
<rect x="73.68" y="294.38" width="0.46" height="2.30" fill="#e3262c" opacity="0.61"/>
<rect x="59.26" y="287.43" width="0.47" height="1.66" fill="#e3262c" opacity="0.37"/>
<rect x="103.42" y="288.04" width="0.86" height="3.50" fill="#6470b8" opacity="0.45"/>
<rect x="81.03" y="281.03" width="0.92" height="6.53" fill="#e3262c" opacity="0.13"/>
<rect x="56.03" y="285.93" width="0.86" height="4.99" fill="#e3262c" opacity="0.16"/>
<rect x="57.94" y="265.21" width="0.55" height="5.67" fill="#e3262c" opacity="0.23"/>
<rect x="62.70" y="275.66" width="0.61" height="3.52" fill="#6470b8" opacity="0.23"/>
<rect x="83.45" y="291.59" width="0.66" height="1.67" fill="#e3262c" opacity="0.48"/>
<rect x="76.14" y="271.45" width="0.50" height="6.24" fill="#6470b8" opacity="0.11"/>
<rect x="61.06" y="275.84" width="0.94" height="5.69" fill="#e3262c" opacity="0.27"/>
<rect x="78.90" y="282.03" width="0.87" height="3.41" fill="#e3262c" opacity="0.63"/>
<rect x="61.44" y="285.89" width="0.70" height="5.35" fill="#e3262c" opacity="0.37"/>
<rect x="78.64" y="272.94" width="0.63" height="4.95" fill="#e3262c" opacity="0.22"/>
<rect x="49.93" y="263.51" width="0.46" height="6.39" fill="#e3262c" opacity="0.15"/>
<rect x="76.07" y="266.55" width="0.68" height="2.78" fill="#e3262c" opacity="0.46"/>
<rect x="85.22" y="289.71" width="0.61" height="3.42" fill="#e3262c" opacity="0.54"/>
<rect x="103.50" y="281.29" width="0.74" height="5.75" fill="#e3262c" opacity="0.25"/>
<rect x="59.49" y="286.25" width="0.60" height="2.55" fill="#e3262c" opacity="0.54"/>
<rect x="59.68" y="277.92" width="0.53" height="4.37" fill="#e3262c" opacity="0.12"/>
<rect x="90.41" y="286.08" width="0.93" height="2.06" fill="#e3262c" opacity="0.21"/>
<rect x="94.58" y="277.81" width="0.77" height="2.58" fill="#e3262c" opacity="0.13"/>
<rect x="56.02" y="269.65" width="0.85" height="3.69" fill="#e3262c" opacity="0.28"/>
<rect x="99.18" y="284.98" width="0.82" height="3.73" fill="#6470b8" opacity="0.20"/>
<rect x="103.61" y="286.56" width="0.56" height="3.82" fill="#e3262c" opacity="0.57"/>
<rect x="88.60" y="284.73" width="0.68" height="5.03" fill="#e3262c" opacity="0.37"/>
<rect x="67.59" y="267.44" width="0.81" height="5.80" fill="#e3262c" opacity="0.15"/>
<rect x="68.66" y="271.46" width="0.92" height="5.21" fill="#e3262c" opacity="0.38"/>
<rect x="68.99" y="272.22" width="0.94" height="4.19" fill="#e3262c" opacity="0.31"/>
<rect x="78.45" y="287.99" width="0.74" height="2.06" fill="#e3262c" opacity="0.43"/>
<rect x="74.18" y="273.44" width="0.71" height="6.06" fill="#e3262c" opacity="0.63"/>
<rect x="75.53" y="268.32" width="0.94" height="2.17" fill="#e3262c" opacity="0.09"/>
<rect x="66.99" y="287.70" width="0.66" height="1.57" fill="#e3262c" opacity="0.42"/>
<rect x="62.95" y="278.77" width="0.71" height="6.67" fill="#e3262c" opacity="0.50"/>
<rect x="61.36" y="291.88" width="0.84" height="2.21" fill="#6470b8" opacity="0.30"/>
<rect x="71.86" y="281.38" width="0.77" height="3.44" fill="#6470b8" opacity="0.41"/>
<rect x="63.83" y="294.74" width="0.51" height="4.52" fill="#6470b8" opacity="0.17"/>
<rect x="61.35" y="273.72" width="0.54" height="3.84" fill="#e3262c" opacity="0.44"/>
<rect x="62.35" y="282.71" width="0.69" height="3.16" fill="#e3262c" opacity="0.37"/>
<rect x="97.62" y="293.25" width="0.86" height="1.81" fill="#6470b8" opacity="0.38"/>
<rect x="79.94" y="270.71" width="0.46" height="4.98" fill="#e3262c" opacity="0.63"/>
<rect x="95.88" y="282.17" width="0.84" height="2.79" fill="#e3262c" opacity="0.11"/>
<rect x="94.38" y="281.43" width="0.90" height="2.42" fill="#e3262c" opacity="0.48"/>
<rect x="105.86" y="282.33" width="0.80" height="2.59" fill="#e3262c" opacity="0.45"/>
<rect x="81.48" y="262.87" width="0.58" height="4.55" fill="#e3262c" opacity="0.11"/>
<rect x="56.75" y="273.53" width="0.70" height="4.20" fill="#e3262c" opacity="0.55"/>
<rect x="80.22" y="278.88" width="0.73" height="4.07" fill="#e3262c" opacity="0.53"/>
<rect x="67.56" y="280.57" width="0.77" height="5.00" fill="#e3262c" opacity="0.35"/>
<rect x="106.44" y="277.57" width="0.94" height="3.32" fill="#e3262c" opacity="0.27"/>
<rect x="46.64" y="276.09" width="0.88" height="3.36" fill="#e3262c" opacity="0.26"/>
<rect x="78.12" y="267.68" width="0.67" height="2.66" fill="#e3262c" opacity="0.31"/>
<rect x="62.95" y="281.68" width="0.59" height="4.27" fill="#e3262c" opacity="0.66"/>
<rect x="104.28" y="271.16" width="0.61" height="3.32" fill="#e3262c" opacity="0.34"/>
<rect x="104.16" y="289.22" width="0.72" height="6.37" fill="#e3262c" opacity="0.17"/>
<rect x="60.70" y="279.91" width="0.75" height="6.57" fill="#e3262c" opacity="0.49"/>
<rect x="83.04" y="268.99" width="0.75" height="5.33" fill="#e3262c" opacity="0.13"/>
<rect x="99.10" y="269.63" width="0.50" height="5.69" fill="#e3262c" opacity="0.08"/>
<rect x="102.09" y="272.70" width="0.84" height="6.02" fill="#e3262c" opacity="0.15"/>
<rect x="67.65" y="272.01" width="0.67" height="3.25" fill="#e3262c" opacity="0.62"/>
<rect x="72.03" y="280.92" width="0.74" height="5.96" fill="#6470b8" opacity="0.20"/>
<rect x="66.61" y="278.61" width="0.92" height="4.76" fill="#6470b8" opacity="0.22"/>
<rect x="58.06" y="275.43" width="0.46" height="2.33" fill="#e3262c" opacity="0.41"/>
<rect x="83.99" y="274.65" width="0.88" height="1.98" fill="#e3262c" opacity="0.08"/>
<rect x="95.76" y="278.58" width="0.84" height="1.78" fill="#e3262c" opacity="0.55"/>
<rect x="93.31" y="272.39" width="0.80" height="4.96" fill="#e3262c" opacity="0.62"/>
<rect x="83.93" y="278.96" width="0.78" height="1.58" fill="#6470b8" opacity="0.09"/>
<rect x="76.88" y="277.61" width="0.88" height="2.41" fill="#e3262c" opacity="0.09"/>
<rect x="72.25" y="267.71" width="0.85" height="2.30" fill="#e3262c" opacity="0.38"/>
<rect x="98.48" y="282.71" width="0.84" height="3.62" fill="#6470b8" opacity="0.39"/>
<rect x="96.53" y="294.32" width="0.86" height="5.37" fill="#e3262c" opacity="0.35"/>
<rect x="96.87" y="285.63" width="0.60" height="4.81" fill="#e3262c" opacity="0.58"/>
<rect x="75.54" y="263.37" width="0.59" height="5.94" fill="#e3262c" opacity="0.15"/>
<rect x="72.60" y="266.85" width="0.89" height="5.99" fill="#e3262c" opacity="0.53"/>
<rect x="99.13" y="271.15" width="0.85" height="6.18" fill="#e3262c" opacity="0.60"/>
<rect x="57.55" y="274.93" width="0.85" height="4.55" fill="#e3262c" opacity="0.46"/>
<rect x="59.24" y="268.55" width="0.55" height="4.06" fill="#e3262c" opacity="0.46"/>
<rect x="73.46" y="271.52" width="0.85" height="1.98" fill="#6470b8" opacity="0.12"/>
<rect x="105.90" y="285.23" width="0.74" height="4.12" fill="#e3262c" opacity="0.12"/>
<rect x="76.03" y="271.83" width="0.73" height="3.50" fill="#e3262c" opacity="0.29"/>
<rect x="56.34" y="286.70" width="0.77" height="2.08" fill="#6470b8" opacity="0.10"/>
<rect x="97.35" y="277.68" width="0.46" height="4.36" fill="#e3262c" opacity="0.67"/>
<rect x="75.14" y="271.42" width="0.66" height="5.79" fill="#6470b8" opacity="0.37"/>
<rect x="105.20" y="276.00" width="0.47" height="2.90" fill="#e3262c" opacity="0.12"/>
<rect x="56.53" y="262.85" width="0.92" height="4.02" fill="#6470b8" opacity="0.09"/>
<rect x="98.16" y="273.21" width="0.93" height="2.16" fill="#e3262c" opacity="0.32"/>
<rect x="106.82" y="274.15" width="0.53" height="3.97" fill="#6470b8" opacity="0.52"/>
<rect x="56.16" y="271.55" width="0.63" height="2.91" fill="#6470b8" opacity="0.46"/>
<rect x="47.46" y="280.32" width="0.94" height="5.06" fill="#e3262c" opacity="0.11"/>
<rect x="103.68" y="265.13" width="0.60" height="5.22" fill="#e3262c" opacity="0.47"/>
<rect x="64.72" y="277.75" width="0.53" height="4.15" fill="#e3262c" opacity="0.11"/>
<rect x="92.20" y="281.39" width="0.55" height="5.44" fill="#e3262c" opacity="0.61"/>
<rect x="83.02" y="290.09" width="0.67" height="2.27" fill="#e3262c" opacity="0.61"/>
<rect x="84.09" y="265.55" width="0.62" height="3.99" fill="#6470b8" opacity="0.22"/>
<rect x="45.5" y="284.0" width="1.0" height="4.0" fill="#e3262c" opacity="0.85"/>
<rect x="50.5" y="273.6" width="1.3" height="3.2" fill="#d81e2a" opacity="0.85"/>
<rect x="68.2" y="286.0" width="1.1" height="3.4" fill="#e3262c" opacity="0.85"/>
<rect x="70.5" y="285.2" width="0.9" height="3.4" fill="#e3262c" opacity="0.85"/>
<rect x="89.2" y="273.8" width="1.1" height="3.2" fill="#d81e2a" opacity="0.85"/>
<rect x="98.2" y="270.0" width="1.2" height="3.0" fill="#e3262c" opacity="0.85"/>
<rect x="93.4" y="286.0" width="1.0" height="3.2" fill="#e3262c" opacity="0.85"/>
<rect x="63.6" y="294.0" width="0.9" height="2.6" fill="#4a5ea8" opacity="0.85"/>
<rect x="46.6" y="283.0" width="0.9" height="3.0" fill="#4a5ea8" opacity="0.85"/>
<rect x="77.0" y="277.0" width="1.0" height="3.6" fill="#6a5fae" opacity="0.85"/>
<rect x="102.8" y="282.2" width="0.8" height="3.0" fill="#e3262c" opacity="0.85"/>
<rect x="105.8" y="287.6" width="0.8" height="2.8" fill="#4a5ea8" opacity="0.85"/>
<path d="M44,286.3 L60,286.3 C66,286 70,283 76,281.6 C80,281 84,282 88,284 C92,285.5 96,285.8 100,283.5 C103,282 106,286 107.6,288" fill="none" stroke="#8fa0d6" stroke-width="0.5" opacity="0.9"/>
<path d="M44,285.6 L107.6,285.6" stroke="#ee8a8a" stroke-width="0.6" opacity="0.8"/>
<text x="176.1" y="262.4" font-size="7" text-anchor="middle" fill="#231f20" stroke="#231f20" stroke-width="0.2" textLength="37.6" lengthAdjust="spacingAndGlyphs">HALLMARK</text>
<rect x="139.4" y="265.6" width="72.2" height="18.9" fill="none" stroke="#333" stroke-width="0.9"/>
<line x1="143.2" y1="267.4" x2="209.6" y2="267.4" stroke="#c8102e" stroke-width="1.5" stroke-linecap="round"/>
<line x1="143.2" y1="271.2" x2="169.8" y2="271.2" stroke="#c8102e" stroke-width="1.5" stroke-linecap="round"/>
<line x1="143.2" y1="274.9" x2="164.1" y2="274.9" stroke="#c8102e" stroke-width="1.5" stroke-linecap="round"/>
<line x1="143.2" y1="278.5" x2="167.7" y2="278.5" stroke="#0b4a8b" stroke-width="1.5" stroke-linecap="round"/>
<line x1="143.2" y1="282.2" x2="166.8" y2="282.2" stroke="#0b4a8b" stroke-width="1.5" stroke-linecap="round"/>
<line x1="142.2" y1="284.5" x2="142.2" y2="287.3" stroke="#333" stroke-width="0.8"/>
<text x="142.2" y="293.8" font-size="6.6" text-anchor="middle" fill="#231f20" stroke="#231f20" stroke-width="0.15">0</text>
<line x1="158.6" y1="284.5" x2="158.6" y2="287.3" stroke="#333" stroke-width="0.8"/>
<text x="158.6" y="293.8" font-size="6.6" text-anchor="middle" fill="#231f20" stroke="#231f20" stroke-width="0.15">1</text>
<line x1="175.2" y1="284.5" x2="175.2" y2="287.3" stroke="#333" stroke-width="0.8"/>
<text x="175.2" y="293.8" font-size="6.6" text-anchor="middle" fill="#231f20" stroke="#231f20" stroke-width="0.15">2</text>
<line x1="191.8" y1="284.5" x2="191.8" y2="287.3" stroke="#333" stroke-width="0.8"/>
<text x="191.8" y="293.8" font-size="6.6" text-anchor="middle" fill="#231f20" stroke="#231f20" stroke-width="0.15">3</text>
<line x1="208.4" y1="284.5" x2="208.4" y2="287.3" stroke="#333" stroke-width="0.8"/>
<text x="208.4" y="293.8" font-size="6.6" text-anchor="middle" fill="#231f20" stroke="#231f20" stroke-width="0.15">4</text>
<text x="164.2" y="300.6" font-size="6.0" fill="#777">-Log<tspan font-size="4" dy="1.3">10</tspan><tspan dy="-1.3">(p)</tspan></text>
<text x="193.7" y="305.0" font-size="5.3" fill="#231f20" stroke="#231f20" stroke-width="0.15" textLength="23" lengthAdjust="spacingAndGlyphs">Direction</text>
<rect x="194.0" y="308.2" width="2.9" height="3.1" fill="#c8102e"/>
<text x="198.0" y="311.7" font-size="5.3" fill="#231f20" stroke="#231f20" stroke-width="0.15" textLength="14.7" lengthAdjust="spacingAndGlyphs">Down</text>
<rect x="219.4" y="308.2" width="2.9" height="3.1" fill="#0b4a8b"/>
<text x="223.0" y="311.7" font-size="5.3" fill="#231f20" stroke="#231f20" stroke-width="0.15" textLength="7.6" lengthAdjust="spacingAndGlyphs">Up</text>
<line x1="260.8" y1="281.3" x2="254.6" y2="260.0" stroke="#d8304d" stroke-width="1.1"/>
<line x1="260.8" y1="281.3" x2="268.5" y2="262.3" stroke="#d8304d" stroke-width="1.1"/>
<line x1="260.8" y1="281.3" x2="260.8" y2="266.9" stroke="#d8304d" stroke-width="1.1"/>
<line x1="260.8" y1="281.3" x2="247.4" y2="268.0" stroke="#3c7ab4" stroke-width="1.1"/>
<line x1="260.8" y1="281.3" x2="276.2" y2="270.0" stroke="#3c7ab4" stroke-width="1.1"/>
<line x1="260.8" y1="281.3" x2="243.6" y2="276.8" stroke="#3c7ab4" stroke-width="1.1"/>
<line x1="260.8" y1="281.3" x2="272.3" y2="280.8" stroke="#3c7ab4" stroke-width="1.1"/>
<line x1="260.8" y1="281.3" x2="282.3" y2="284.6" stroke="#d8304d" stroke-width="1.1"/>
<line x1="260.8" y1="281.3" x2="295.4" y2="286.9" stroke="#d8304d" stroke-width="1.1"/>
<line x1="260.8" y1="281.3" x2="244.6" y2="288.6" stroke="#3c7ab4" stroke-width="1.1"/>
<line x1="260.8" y1="281.3" x2="273.8" y2="293.8" stroke="#3c7ab4" stroke-width="1.1"/>
<line x1="260.8" y1="281.3" x2="266.9" y2="299.2" stroke="#3c7ab4" stroke-width="1.1"/>
<line x1="260.8" y1="281.3" x2="251.0" y2="292.6" stroke="#d8304d" stroke-width="1.1"/>
<line x1="260.8" y1="281.3" x2="246.2" y2="296.9" stroke="#d8304d" stroke-width="1.1"/>
<line x1="260.8" y1="281.3" x2="257.7" y2="303.1" stroke="#d8304d" stroke-width="1.1"/>
<path d="M254.60,258.70 L255.90,261.00 L253.30,261.00 Z" fill="#5b9fd4"/>
<path d="M268.50,261.00 L269.80,263.30 L267.20,263.30 Z" fill="#5b9fd4"/>
<path d="M260.80,265.60 L262.10,267.90 L259.50,267.90 Z" fill="#5b9fd4"/>
<path d="M276.20,268.70 L277.50,271.00 L274.90,271.00 Z" fill="#5b9fd4"/>
<path d="M272.30,279.50 L273.60,281.80 L271.00,281.80 Z" fill="#5b9fd4"/>
<path d="M282.30,283.30 L283.60,285.60 L281.00,285.60 Z" fill="#5b9fd4"/>
<path d="M295.40,285.60 L296.70,287.90 L294.10,287.90 Z" fill="#5b9fd4"/>
<path d="M273.80,292.50 L275.10,294.80 L272.50,294.80 Z" fill="#5b9fd4"/>
<path d="M266.90,297.90 L268.20,300.20 L265.60,300.20 Z" fill="#5b9fd4"/>
<path d="M257.70,301.80 L259.00,304.10 L256.40,304.10 Z" fill="#5b9fd4"/>
<text x="258.0" y="286.2" font-size="4.1" text-anchor="middle" fill="#222" stroke="#222" stroke-width="0.12">SNRPB</text>
<text x="252.5" y="258.5" font-size="4.1" text-anchor="middle" fill="#222" stroke="#222" stroke-width="0.12">SNRPA1</text>
<text x="271.5" y="264.6" font-size="4.1" text-anchor="middle" fill="#222" stroke="#222" stroke-width="0.12">HNRNPH1</text>
<text x="259.6" y="270.8" font-size="4.1" text-anchor="middle" fill="#222" stroke="#222" stroke-width="0.12">SRSF1</text>
<text x="247.7" y="266.6" font-size="4.1" text-anchor="middle" fill="#222" stroke="#222" stroke-width="0.12">AQR</text>
<text x="274.6" y="273.4" font-size="4.1" text-anchor="middle" fill="#222" stroke="#222" stroke-width="0.12">HTATSF1</text>
<text x="242.0" y="274.9" font-size="4.1" text-anchor="middle" fill="#222" stroke="#222" stroke-width="0.12">HNRNPUL1</text>
<text x="271.6" y="279.5" font-size="4.1" text-anchor="middle" fill="#222" stroke="#222" stroke-width="0.12">SF3B3</text>
<text x="285.8" y="287.2" font-size="4.1" text-anchor="middle" fill="#222" stroke="#222" stroke-width="0.12">RBMX</text>
<text x="296.4" y="291.5" font-size="4.1" text-anchor="middle" fill="#222" stroke="#222" stroke-width="0.12">SNRPF</text>
<text x="239.6" y="290.8" font-size="4.1" text-anchor="middle" fill="#222" stroke="#222" stroke-width="0.12">LSM7</text>
<text x="275.8" y="292.3" font-size="4.1" text-anchor="middle" fill="#222" stroke="#222" stroke-width="0.12">CSTF3</text>
<text x="269.6" y="300.0" font-size="4.1" text-anchor="middle" fill="#222" stroke="#222" stroke-width="0.12">SYT1</text>
<text x="252.6" y="295.4" font-size="4.1" text-anchor="middle" fill="#222" stroke="#222" stroke-width="0.12">HNRNPD</text>
<text x="243.1" y="300.8" font-size="4.1" text-anchor="middle" fill="#222" stroke="#222" stroke-width="0.12">SRSF6</text>
<text x="256.6" y="306.6" font-size="4.1" text-anchor="middle" fill="#222" stroke="#222" stroke-width="0.12">HNRNPM</text>
<text x="354.4" y="252.8" font-size="5.8" text-anchor="middle" fill="#231f20" stroke="#231f20" stroke-width="0.22" textLength="46.6" lengthAdjust="spacingAndGlyphs">Cobimetinib – STAT2</text>
<rect x="331.3" y="254.7" width="55" height="43.6" fill="none" stroke="#333" stroke-width="1.0"/>
<line x1="329.4" y1="255.0" x2="331.3" y2="255.0" stroke="#333" stroke-width="0.7"/>
<text x="327.9" y="257.10" font-size="6.0" text-anchor="end" fill="#231f20" stroke="#231f20" stroke-width="0.12">17.5</text>
<line x1="329.4" y1="263.6" x2="331.3" y2="263.6" stroke="#333" stroke-width="0.7"/>
<text x="327.9" y="265.70" font-size="6.0" text-anchor="end" fill="#231f20" stroke="#231f20" stroke-width="0.12">17.0</text>
<line x1="329.4" y1="272.3" x2="331.3" y2="272.3" stroke="#333" stroke-width="0.7"/>
<text x="327.9" y="274.40" font-size="6.0" text-anchor="end" fill="#231f20" stroke="#231f20" stroke-width="0.12">16.5</text>
<line x1="329.4" y1="280.6" x2="331.3" y2="280.6" stroke="#333" stroke-width="0.7"/>
<text x="327.9" y="282.70" font-size="6.0" text-anchor="end" fill="#231f20" stroke="#231f20" stroke-width="0.12">16.0</text>
<line x1="329.4" y1="289.2" x2="331.3" y2="289.2" stroke="#333" stroke-width="0.7"/>
<text x="327.9" y="291.30" font-size="6.0" text-anchor="end" fill="#231f20" stroke="#231f20" stroke-width="0.12">15.5</text>
<line x1="329.4" y1="297.9" x2="331.3" y2="297.9" stroke="#333" stroke-width="0.7"/>
<text x="327.9" y="300.00" font-size="6.0" text-anchor="end" fill="#231f20" stroke="#231f20" stroke-width="0.12">15.0</text>
<line x1="335.2" y1="298.3" x2="335.2" y2="300.2" stroke="#333" stroke-width="0.7"/>
<text x="335.2" y="306.3" font-size="6.0" text-anchor="middle" fill="#231f20" stroke="#231f20" stroke-width="0.12">0.4</text>
<line x1="350.7" y1="298.3" x2="350.7" y2="300.2" stroke="#333" stroke-width="0.7"/>
<text x="350.7" y="306.3" font-size="6.0" text-anchor="middle" fill="#231f20" stroke="#231f20" stroke-width="0.12">0.6</text>
<line x1="366.2" y1="298.3" x2="366.2" y2="300.2" stroke="#333" stroke-width="0.7"/>
<text x="366.2" y="306.3" font-size="6.0" text-anchor="middle" fill="#231f20" stroke="#231f20" stroke-width="0.12">0.8</text>
<line x1="382.3" y1="298.3" x2="382.3" y2="300.2" stroke="#333" stroke-width="0.7"/>
<text x="382.3" y="306.3" font-size="6.0" text-anchor="middle" fill="#231f20" stroke="#231f20" stroke-width="0.12">1.0</text>
<text x="331.0" y="314.6" font-size="6.9" fill="#555" stroke="#555" stroke-width="0.1" textLength="57.9" lengthAdjust="spacingAndGlyphs">Viability after treatment</text>
<text transform="translate(312.6,300.2) rotate(-90)" x="0" y="0" font-size="6.9" fill="#555" stroke="#555" stroke-width="0.1" textLength="46" lengthAdjust="spacingAndGlyphs">Protein expression</text>
<line x1="334" y1="256.8" x2="384" y2="287.8" stroke="#333" stroke-width="0.75" stroke-dasharray="1.8,1.3"/>
<circle cx="365.1" cy="269.1" r="1.35" fill="none" stroke="#f7941d" stroke-width="0.6"/>
<circle cx="371.2" cy="267.0" r="1.35" fill="none" stroke="#f7941d" stroke-width="0.6"/>
<circle cx="359.0" cy="273.4" r="1.35" fill="none" stroke="#f7941d" stroke-width="0.6"/>
<circle cx="362.4" cy="276.5" r="1.35" fill="none" stroke="#f7941d" stroke-width="0.6"/>
<circle cx="364.4" cy="284.2" r="1.35" fill="none" stroke="#f7941d" stroke-width="0.6"/>
<circle cx="371.8" cy="289.6" r="1.35" fill="none" stroke="#f7941d" stroke-width="0.6"/>
<circle cx="370.5" cy="275.5" r="1.35" fill="none" stroke="#f7941d" stroke-width="0.6"/>
<circle cx="373.8" cy="276.5" r="1.35" fill="none" stroke="#f7941d" stroke-width="0.6"/>
<circle cx="366.2" cy="282.4" r="1.35" fill="none" stroke="#f7941d" stroke-width="0.6"/>
<circle cx="369.1" cy="283.0" r="1.35" fill="none" stroke="#f7941d" stroke-width="0.6"/>
<circle cx="378.5" cy="290.0" r="1.35" fill="none" stroke="#f7941d" stroke-width="0.6"/>
<circle cx="374.0" cy="286.0" r="1.35" fill="none" stroke="#f7941d" stroke-width="0.6"/>
<circle cx="371.50" cy="297.00" r="1.35" fill="#f7941d"/>
<circle cx="378.20" cy="297.30" r="1.35" fill="#f7941d"/>
<circle cx="384.30" cy="277.80" r="1.35" fill="#f7941d"/>
<circle cx="378.20" cy="273.10" r="1.35" fill="#f7941d"/>
<circle cx="372.20" cy="273.40" r="1.35" fill="#f7941d"/>
<circle cx="366.40" cy="282.50" r="1.35" fill="#f7941d"/>
<circle cx="375.90" cy="275.80" r="1.35" fill="#f7941d"/>
<circle cx="373.50" cy="280.00" r="1.35" fill="#f7941d"/>
<circle cx="380.50" cy="281.00" r="1.35" fill="#f7941d"/>
<circle cx="373.14" cy="282.83" r="1.35" fill="#f7941d"/>
<circle cx="377.94" cy="279.16" r="1.35" fill="#f7941d"/>
<circle cx="375.83" cy="279.28" r="1.35" fill="#f7941d"/>
<circle cx="379.06" cy="287.15" r="1.35" fill="#f7941d"/>
<circle cx="379.73" cy="284.89" r="1.35" fill="#f7941d"/>
<circle cx="377.24" cy="285.59" r="1.35" fill="#f7941d"/>
<circle cx="374.28" cy="286.97" r="1.35" fill="#f7941d"/>
<circle cx="372.93" cy="285.37" r="1.35" fill="#f7941d"/>
<circle cx="378.01" cy="286.68" r="1.35" fill="#f7941d"/>
<circle cx="375.13" cy="293.51" r="1.35" fill="#f7941d"/>
<circle cx="376.35" cy="284.62" r="1.35" fill="#f7941d"/>
<circle cx="376.61" cy="284.83" r="1.35" fill="#f7941d"/>
<circle cx="375.20" cy="285.38" r="1.35" fill="#f7941d"/>
<circle cx="381.47" cy="286.57" r="1.35" fill="#f7941d"/>
<circle cx="376.66" cy="288.66" r="1.35" fill="#f7941d"/>
<circle cx="381.44" cy="285.78" r="1.35" fill="#f7941d"/>
<circle cx="374.58" cy="294.42" r="1.35" fill="#f7941d"/>
<circle cx="372.40" cy="285.32" r="1.35" fill="#f7941d"/>
<circle cx="377.93" cy="293.81" r="1.35" fill="#f7941d"/>
<circle cx="373.73" cy="279.00" r="1.35" fill="#f7941d"/>
<circle cx="377.92" cy="284.83" r="1.35" fill="#f7941d"/>
<circle cx="375.19" cy="287.98" r="1.35" fill="#f7941d"/>
<circle cx="376.78" cy="287.43" r="1.35" fill="#f7941d"/>
<circle cx="375.08" cy="290.63" r="1.35" fill="#f7941d"/>
<circle cx="380.11" cy="286.60" r="1.35" fill="#f7941d"/>
<circle cx="375.03" cy="288.85" r="1.35" fill="#f7941d"/>
<circle cx="377.44" cy="283.17" r="1.35" fill="#f7941d"/>
<circle cx="375.00" cy="289.86" r="1.35" fill="#f7941d"/>
<circle cx="375.95" cy="285.45" r="1.35" fill="#f7941d"/>
<circle cx="376.75" cy="286.39" r="1.35" fill="#f7941d"/>
<circle cx="376.19" cy="280.32" r="1.35" fill="#f7941d"/>
<circle cx="380.75" cy="287.14" r="1.35" fill="#f7941d"/>
<circle cx="373.92" cy="289.63" r="1.35" fill="#f7941d"/>
<circle cx="377.00" cy="286.56" r="1.35" fill="#f7941d"/>
<circle cx="378.92" cy="293.74" r="1.35" fill="#f7941d"/>
<circle cx="377.64" cy="291.57" r="1.35" fill="#f7941d"/>
<circle cx="381.81" cy="283.23" r="1.35" fill="#f7941d"/>
<circle cx="374.84" cy="288.98" r="1.35" fill="#f7941d"/>
<circle cx="371.76" cy="285.64" r="1.35" fill="#f7941d"/>
<circle cx="379.56" cy="289.84" r="1.35" fill="#f7941d"/>
<circle cx="344.7" cy="257.4" r="1.35" fill="none" stroke="#4a86b8" stroke-width="0.6"/>
<circle cx="353.6" cy="258.2" r="1.35" fill="none" stroke="#4a86b8" stroke-width="0.6"/>
<circle cx="358.4" cy="260.9" r="1.35" fill="none" stroke="#4a86b8" stroke-width="0.6"/>
<circle cx="334.0" cy="264.5" r="1.35" fill="none" stroke="#4a86b8" stroke-width="0.6"/>
<circle cx="350.7" cy="264.5" r="1.35" fill="none" stroke="#4a86b8" stroke-width="0.6"/>
<circle cx="354.8" cy="266.9" r="1.35" fill="none" stroke="#4a86b8" stroke-width="0.6"/>
<circle cx="357.2" cy="267.5" r="1.35" fill="none" stroke="#4a86b8" stroke-width="0.6"/>
<circle cx="361.4" cy="266.3" r="1.35" fill="none" stroke="#4a86b8" stroke-width="0.6"/>
<circle cx="365.0" cy="263.3" r="1.35" fill="none" stroke="#4a86b8" stroke-width="0.6"/>
<circle cx="359.6" cy="269.3" r="1.35" fill="none" stroke="#4a86b8" stroke-width="0.6"/>
<circle cx="348.3" cy="275.8" r="1.35" fill="none" stroke="#4a86b8" stroke-width="0.6"/>
<circle cx="356.6" cy="268.7" r="1.35" fill="none" stroke="#4a86b8" stroke-width="0.6"/>
<circle cx="369.1" cy="265.0" r="1.35" fill="#0d4a85"/>
<circle cx="367.8" cy="274.4" r="1.35" fill="#0d4a85"/>
<circle cx="365.8" cy="276.5" r="1.35" fill="#0d4a85"/>
<circle cx="360.7" cy="281.5" r="1.35" fill="#0d4a85"/>
<circle cx="376.2" cy="273.1" r="1.35" fill="#0d4a85"/>
<circle cx="377.2" cy="278.5" r="1.35" fill="#0d4a85"/>
<circle cx="375.9" cy="282.9" r="1.35" fill="#0d4a85"/>
<circle cx="376.5" cy="292.6" r="1.35" fill="#0d4a85"/>
<text x="383" y="259.2" font-size="4.7" text-anchor="end" fill="#c0163b" stroke="#c0163b" stroke-width="0.1">N = 82</text>
<text x="383" y="264.5" font-size="4.7" text-anchor="end" fill="#c0163b" stroke="#c0163b" stroke-width="0.1"><tspan font-style="italic">P</tspan> = 6.3e-12</text>
<text x="383" y="269.9" font-size="4.7" text-anchor="end" fill="#c0163b" stroke="#c0163b" stroke-width="0.1"><tspan font-style="italic">R</tspan> = −0.66</text>
<line x1="425.1" y1="256.0" x2="425.1" y2="304.6" stroke="#333" stroke-width="1.1"/>
<line x1="424.6" y1="304.6" x2="471.8" y2="304.6" stroke="#333" stroke-width="1.1"/>
<line x1="423.2" y1="256.50" x2="425.1" y2="256.50" stroke="#333" stroke-width="0.7"/>
<text x="422.4" y="258.50" font-size="5.9" text-anchor="end" fill="#231f20" stroke="#231f20" stroke-width="0.12">1.00</text>
<line x1="423.2" y1="267.95" x2="425.1" y2="267.95" stroke="#333" stroke-width="0.7"/>
<text x="422.4" y="269.95" font-size="5.9" text-anchor="end" fill="#231f20" stroke="#231f20" stroke-width="0.12">0.75</text>
<line x1="423.2" y1="279.40" x2="425.1" y2="279.40" stroke="#333" stroke-width="0.7"/>
<text x="422.4" y="281.40" font-size="5.9" text-anchor="end" fill="#231f20" stroke="#231f20" stroke-width="0.12">0.50</text>
<line x1="423.2" y1="290.85" x2="425.1" y2="290.85" stroke="#333" stroke-width="0.7"/>
<text x="422.4" y="292.85" font-size="5.9" text-anchor="end" fill="#231f20" stroke="#231f20" stroke-width="0.12">0.25</text>
<line x1="423.2" y1="302.30" x2="425.1" y2="302.30" stroke="#333" stroke-width="0.7"/>
<text x="422.4" y="304.30" font-size="5.9" text-anchor="end" fill="#231f20" stroke="#231f20" stroke-width="0.12">0.00</text>
<line x1="426.90" y1="304.6" x2="426.90" y2="306.6" stroke="#333" stroke-width="0.7"/>
<text x="426.90" y="313.0" font-size="5.9" text-anchor="middle" fill="#231f20" stroke="#231f20" stroke-width="0.12">0</text>
<line x1="435.62" y1="304.6" x2="435.62" y2="306.6" stroke="#333" stroke-width="0.7"/>
<text x="435.62" y="313.0" font-size="5.9" text-anchor="middle" fill="#231f20" stroke="#231f20" stroke-width="0.12">1</text>
<line x1="444.34" y1="304.6" x2="444.34" y2="306.6" stroke="#333" stroke-width="0.7"/>
<text x="444.34" y="313.0" font-size="5.9" text-anchor="middle" fill="#231f20" stroke="#231f20" stroke-width="0.12">2</text>
<line x1="453.06" y1="304.6" x2="453.06" y2="306.6" stroke="#333" stroke-width="0.7"/>
<text x="453.06" y="313.0" font-size="5.9" text-anchor="middle" fill="#231f20" stroke="#231f20" stroke-width="0.12">3</text>
<line x1="461.78" y1="304.6" x2="461.78" y2="306.6" stroke="#333" stroke-width="0.7"/>
<text x="461.78" y="313.0" font-size="5.9" text-anchor="middle" fill="#231f20" stroke="#231f20" stroke-width="0.12">4</text>
<line x1="470.50" y1="304.6" x2="470.50" y2="306.6" stroke="#333" stroke-width="0.7"/>
<text x="470.50" y="313.0" font-size="5.9" text-anchor="middle" fill="#231f20" stroke="#231f20" stroke-width="0.12">5</text>
<text x="448.8" y="319.6" font-size="6.9" text-anchor="middle" fill="#555" stroke="#555" stroke-width="0.1" textLength="30" lengthAdjust="spacingAndGlyphs">Time (years)</text>
<text transform="translate(406.0,279.4) rotate(-90)" x="0" y="0" font-size="6.9" text-anchor="middle" fill="#555" stroke="#555" stroke-width="0.1" textLength="21" lengthAdjust="spacingAndGlyphs">Fraction</text>
<path d="M426.90,256.50 L427.77,256.50 L427.77,260.16 L436.93,260.16 L436.93,264.29 L437.80,264.29 L437.80,267.49 L444.34,267.49 L444.34,271.16 L467.01,271.16" fill="none" stroke="#2d6aa2" stroke-width="1.5"/>
<path d="M426.90,256.50 L427.34,260.16 L427.95,263.37 L428.64,267.95 L429.34,273.90 L430.04,278.48 L430.82,280.77 L432.13,282.15 L434.31,283.06 L436.06,283.98 L436.49,285.35 L449.57,285.35 L449.57,288.56 L466.14,288.56 L466.14,293.14 L471.81,293.14" fill="none" stroke="#d0223f" stroke-width="1.5"/>
<text x="428.5" y="297.7" font-size="5.9" fill="#231f20" stroke="#231f20" stroke-width="0.15" textLength="27.7" lengthAdjust="spacingAndGlyphs"><tspan font-style="italic">P</tspan> = 7.1e-03</text>
</g>
<g id="panelB">
<text x="7.80" y="366.30" font-size="11.4" text-anchor="start" font-weight="bold" font-style="normal" fill="#111" textLength="6.60" lengthAdjust="spacingAndGlyphs">B</text>
<rect x="89.200" y="360.8" width="2.436" height="11.50" fill="#35b04b"/>
<rect x="91.636" y="360.8" width="2.436" height="11.50" fill="#3f6fa0"/>
<rect x="94.072" y="360.8" width="4.872" height="11.50" fill="#35b04b"/>
<rect x="98.944" y="360.8" width="2.436" height="11.50" fill="#a6bd8c"/>
<rect x="101.380" y="360.8" width="2.436" height="11.50" fill="#35b04b"/>
<rect x="103.816" y="360.8" width="2.436" height="11.50" fill="#2a7b6a"/>
<rect x="106.252" y="360.8" width="2.436" height="11.50" fill="#3f6fa0"/>
<rect x="108.688" y="360.8" width="2.436" height="11.50" fill="#58c06a"/>
<rect x="111.124" y="360.8" width="4.872" height="11.50" fill="#2a7b6a"/>
<rect x="115.996" y="360.8" width="7.308" height="11.50" fill="#58c06a"/>
<rect x="123.304" y="360.8" width="2.436" height="11.50" fill="#2a7b6a"/>
<rect x="125.740" y="360.8" width="4.872" height="11.50" fill="#a6bd8c"/>
<rect x="130.612" y="360.8" width="2.436" height="11.50" fill="#2a7b6a"/>
<rect x="133.048" y="360.8" width="2.436" height="11.50" fill="#3f6fa0"/>
<rect x="135.484" y="360.8" width="4.872" height="11.50" fill="#58c06a"/>
<rect x="140.356" y="360.8" width="2.436" height="11.50" fill="#a6bd8c"/>
<rect x="142.792" y="360.8" width="7.308" height="11.50" fill="#58c06a"/>
<rect x="150.100" y="360.8" width="2.436" height="11.50" fill="#35b04b"/>
<rect x="152.536" y="360.8" width="2.436" height="11.50" fill="#2a7b6a"/>
<rect x="154.972" y="360.8" width="2.436" height="11.50" fill="#35b04b"/>
<rect x="157.408" y="360.8" width="2.436" height="11.50" fill="#58c06a"/>
<rect x="159.844" y="360.8" width="4.872" height="11.50" fill="#35b04b"/>
<rect x="164.716" y="360.8" width="2.436" height="11.50" fill="#3f6fa0"/>
<rect x="167.152" y="360.8" width="2.436" height="11.50" fill="#35b04b"/>
<rect x="169.588" y="360.8" width="2.436" height="11.50" fill="#58c06a"/>
<rect x="172.024" y="360.8" width="2.436" height="11.50" fill="#3f6fa0"/>
<rect x="174.460" y="360.8" width="4.872" height="11.50" fill="#2a7b6a"/>
<rect x="179.332" y="360.8" width="2.436" height="11.50" fill="#58c06a"/>
<rect x="181.768" y="360.8" width="4.872" height="11.50" fill="#35b04b"/>
<rect x="186.640" y="360.8" width="2.436" height="11.50" fill="#a6bd8c"/>
<rect x="189.076" y="360.8" width="2.436" height="11.50" fill="#35b04b"/>
<rect x="191.512" y="360.8" width="4.872" height="11.50" fill="#58c06a"/>
<rect x="196.384" y="360.8" width="2.436" height="11.50" fill="#2a7b6a"/>
<rect x="198.820" y="360.8" width="2.436" height="11.50" fill="#35b04b"/>
<rect x="201.256" y="360.8" width="2.436" height="11.50" fill="#a6bd8c"/>
<rect x="203.692" y="360.8" width="2.436" height="11.50" fill="#35b04b"/>
<rect x="206.128" y="360.8" width="2.436" height="11.50" fill="#58c06a"/>
<rect x="208.564" y="360.8" width="2.436" height="11.50" fill="#a6bd8c"/>
<rect x="211.000" y="360.8" width="4.872" height="11.50" fill="#58c06a"/>
<rect x="215.872" y="360.8" width="2.436" height="11.50" fill="#a6bd8c"/>
<rect x="218.308" y="360.8" width="9.744" height="11.50" fill="#58c06a"/>
<rect x="228.052" y="360.8" width="4.872" height="11.50" fill="#35b04b"/>
<rect x="232.924" y="360.8" width="2.436" height="11.50" fill="#a6bd8c"/>
<rect x="235.360" y="360.8" width="4.872" height="11.50" fill="#35b04b"/>
<rect x="240.232" y="360.8" width="2.436" height="11.50" fill="#58c06a"/>
<rect x="242.668" y="360.8" width="2.436" height="11.50" fill="#2a7b6a"/>
<rect x="245.104" y="360.8" width="2.436" height="11.50" fill="#58c06a"/>
<rect x="247.540" y="360.8" width="2.436" height="11.50" fill="#2a7b6a"/>
<rect x="249.976" y="360.8" width="4.872" height="11.50" fill="#35b04b"/>
<rect x="254.848" y="360.8" width="2.436" height="11.50" fill="#58c06a"/>
<rect x="257.284" y="360.8" width="2.436" height="11.50" fill="#2a7b6a"/>
<rect x="259.720" y="360.8" width="2.436" height="11.50" fill="#3f6fa0"/>
<rect x="262.156" y="360.8" width="2.436" height="11.50" fill="#2a7b6a"/>
<rect x="264.592" y="360.8" width="2.436" height="11.50" fill="#58c06a"/>
<rect x="267.028" y="360.8" width="2.436" height="11.50" fill="#a6bd8c"/>
<rect x="269.464" y="360.8" width="7.308" height="11.50" fill="#2a7b6a"/>
<rect x="276.772" y="360.8" width="2.436" height="11.50" fill="#35b04b"/>
<rect x="279.208" y="360.8" width="2.436" height="11.50" fill="#3f6fa0"/>
<rect x="281.644" y="360.8" width="4.872" height="11.50" fill="#2a7b6a"/>
<rect x="286.516" y="360.8" width="2.436" height="11.50" fill="#35b04b"/>
<rect x="288.952" y="360.8" width="2.436" height="11.50" fill="#3f6fa0"/>
<rect x="291.388" y="360.8" width="2.436" height="11.50" fill="#a6bd8c"/>
<rect x="293.824" y="360.8" width="2.436" height="11.50" fill="#3f6fa0"/>
<rect x="296.260" y="360.8" width="2.436" height="11.50" fill="#2a7b6a"/>
<rect x="298.696" y="360.8" width="4.872" height="11.50" fill="#3f6fa0"/>
<rect x="303.568" y="360.8" width="2.436" height="11.50" fill="#5a2570"/>
<rect x="306.004" y="360.8" width="2.436" height="11.50" fill="#35b04b"/>
<rect x="308.440" y="360.8" width="2.436" height="11.50" fill="#58c06a"/>
<rect x="310.876" y="360.8" width="2.436" height="11.50" fill="#a6bd8c"/>
<rect x="313.312" y="360.8" width="2.436" height="11.50" fill="#58c06a"/>
<rect x="315.748" y="360.8" width="2.436" height="11.50" fill="#35b04b"/>
<rect x="318.184" y="360.8" width="2.436" height="11.50" fill="#2a7b6a"/>
<rect x="320.620" y="360.8" width="2.436" height="11.50" fill="#58c06a"/>
<rect x="323.056" y="360.8" width="4.872" height="11.50" fill="#35b04b"/>
<rect x="327.928" y="360.8" width="2.436" height="11.50" fill="#2a7b6a"/>
<rect x="330.364" y="360.8" width="2.436" height="11.50" fill="#58c06a"/>
<rect x="332.800" y="360.8" width="2.436" height="11.50" fill="#a6bd8c"/>
<rect x="335.236" y="360.8" width="2.436" height="11.50" fill="#35b04b"/>
<rect x="337.672" y="360.8" width="12.180" height="11.50" fill="#58c06a"/>
<rect x="349.852" y="360.8" width="2.436" height="11.50" fill="#35b04b"/>
<rect x="352.288" y="360.8" width="2.436" height="11.50" fill="#2a7b6a"/>
<rect x="354.724" y="360.8" width="2.436" height="11.50" fill="#3f6fa0"/>
<rect x="357.160" y="360.8" width="2.436" height="11.50" fill="#5a2570"/>
<rect x="359.596" y="360.8" width="2.436" height="11.50" fill="#35b04b"/>
<rect x="362.032" y="360.8" width="2.436" height="11.50" fill="#58c06a"/>
<rect x="364.468" y="360.8" width="2.436" height="11.50" fill="#35b04b"/>
<rect x="366.904" y="360.8" width="2.436" height="11.50" fill="#2a7b6a"/>
<rect x="369.340" y="360.8" width="4.872" height="11.50" fill="#35b04b"/>
<rect x="89.200" y="372.3" width="2.436" height="11.70" fill="#f9bb1e"/>
<rect x="91.636" y="372.3" width="2.436" height="11.70" fill="#8880c4"/>
<rect x="94.072" y="372.3" width="7.308" height="11.70" fill="#f9bb1e"/>
<rect x="101.380" y="372.3" width="2.436" height="11.70" fill="#8880c4"/>
<rect x="103.816" y="372.3" width="2.436" height="11.70" fill="#f9bb1e"/>
<rect x="106.252" y="372.3" width="4.872" height="11.70" fill="#8880c4"/>
<rect x="111.124" y="372.3" width="4.872" height="11.70" fill="#f9bb1e"/>
<rect x="115.996" y="372.3" width="7.308" height="11.70" fill="#8880c4"/>
<rect x="123.304" y="372.3" width="4.872" height="11.70" fill="#f9bb1e"/>
<rect x="128.176" y="372.3" width="2.436" height="11.70" fill="#8880c4"/>
<rect x="130.612" y="372.3" width="9.744" height="11.70" fill="#f9bb1e"/>
<rect x="140.356" y="372.3" width="4.872" height="11.70" fill="#8880c4"/>
<rect x="145.228" y="372.3" width="9.744" height="11.70" fill="#f9bb1e"/>
<rect x="154.972" y="372.3" width="7.308" height="11.70" fill="#8880c4"/>
<rect x="162.280" y="372.3" width="2.436" height="11.70" fill="#f9bb1e"/>
<rect x="164.716" y="372.3" width="2.436" height="11.70" fill="#8880c4"/>
<rect x="167.152" y="372.3" width="4.872" height="11.70" fill="#f9bb1e"/>
<rect x="172.024" y="372.3" width="2.436" height="11.70" fill="#8880c4"/>
<rect x="174.460" y="372.3" width="2.436" height="11.70" fill="#f9bb1e"/>
<rect x="176.896" y="372.3" width="4.872" height="11.70" fill="#8880c4"/>
<rect x="181.768" y="372.3" width="2.436" height="11.70" fill="#f9bb1e"/>
<rect x="184.204" y="372.3" width="2.436" height="11.70" fill="#8880c4"/>
<rect x="186.640" y="372.3" width="2.436" height="11.70" fill="#f9bb1e"/>
<rect x="189.076" y="372.3" width="2.436" height="11.70" fill="#8880c4"/>
<rect x="191.512" y="372.3" width="2.436" height="11.70" fill="#f9bb1e"/>
<rect x="193.948" y="372.3" width="2.436" height="11.70" fill="#8880c4"/>
<rect x="196.384" y="372.3" width="17.052" height="11.70" fill="#f9bb1e"/>
<rect x="213.436" y="372.3" width="2.436" height="11.70" fill="#8880c4"/>
<rect x="215.872" y="372.3" width="2.436" height="11.70" fill="#f9bb1e"/>
<rect x="218.308" y="372.3" width="9.744" height="11.70" fill="#8880c4"/>
<rect x="228.052" y="372.3" width="2.436" height="11.70" fill="#f9bb1e"/>
<rect x="230.488" y="372.3" width="2.436" height="11.70" fill="#8880c4"/>
<rect x="232.924" y="372.3" width="24.360" height="11.70" fill="#f9bb1e"/>
<rect x="257.284" y="372.3" width="2.436" height="11.70" fill="#8880c4"/>
<rect x="259.720" y="372.3" width="2.436" height="11.70" fill="#f9bb1e"/>
<rect x="262.156" y="372.3" width="2.436" height="11.70" fill="#8880c4"/>
<rect x="264.592" y="372.3" width="2.436" height="11.70" fill="#f9bb1e"/>
<rect x="267.028" y="372.3" width="2.436" height="11.70" fill="#8880c4"/>
<rect x="269.464" y="372.3" width="12.180" height="11.70" fill="#f9bb1e"/>
<rect x="281.644" y="372.3" width="2.436" height="11.70" fill="#8880c4"/>
<rect x="284.080" y="372.3" width="19.488" height="11.70" fill="#f9bb1e"/>
<rect x="303.568" y="372.3" width="2.436" height="11.70" fill="#8880c4"/>
<rect x="306.004" y="372.3" width="2.436" height="11.70" fill="#f9bb1e"/>
<rect x="308.440" y="372.3" width="2.436" height="11.70" fill="#8880c4"/>
<rect x="310.876" y="372.3" width="2.436" height="11.70" fill="#f9bb1e"/>
<rect x="313.312" y="372.3" width="2.436" height="11.70" fill="#8880c4"/>
<rect x="315.748" y="372.3" width="12.180" height="11.70" fill="#f9bb1e"/>
<rect x="327.928" y="372.3" width="2.436" height="11.70" fill="#8880c4"/>
<rect x="330.364" y="372.3" width="2.436" height="11.70" fill="#f9bb1e"/>
<rect x="332.800" y="372.3" width="2.436" height="11.70" fill="#8880c4"/>
<rect x="335.236" y="372.3" width="4.872" height="11.70" fill="#f9bb1e"/>
<rect x="340.108" y="372.3" width="2.436" height="11.70" fill="#8880c4"/>
<rect x="342.544" y="372.3" width="4.872" height="11.70" fill="#f9bb1e"/>
<rect x="347.416" y="372.3" width="2.436" height="11.70" fill="#8880c4"/>
<rect x="349.852" y="372.3" width="4.872" height="11.70" fill="#f9bb1e"/>
<rect x="354.724" y="372.3" width="2.436" height="11.70" fill="#8880c4"/>
<rect x="357.160" y="372.3" width="2.436" height="11.70" fill="#f9bb1e"/>
<rect x="359.596" y="372.3" width="2.436" height="11.70" fill="#8880c4"/>
<rect x="362.032" y="372.3" width="4.872" height="11.70" fill="#f9bb1e"/>
<rect x="366.904" y="372.3" width="7.308" height="11.70" fill="#8880c4"/>
<rect x="89.200" y="384.0" width="221.676" height="11.70" fill="#f6901f"/>
<rect x="310.876" y="384.0" width="63.336" height="11.70" fill="#11508a"/>
<rect x="89.200" y="395.7" width="114.492" height="11.10" fill="#231f20"/>
<rect x="203.692" y="395.7" width="107.184" height="11.10" fill="#ffffff"/>
<rect x="310.876" y="395.7" width="2.436" height="11.10" fill="#231f20"/>
<rect x="313.312" y="395.7" width="58.464" height="11.10" fill="#ffffff"/>
<rect x="371.776" y="395.7" width="2.436" height="11.10" fill="#bcbcc0"/>
<rect x="89.2" y="409.2" width="285.012" height="207.060" fill="#ffffff"/>
<rect x="89.200" y="409.20" width="36.540" height="14.79" fill="#026b4f"/>
<rect x="203.692" y="409.20" width="36.540" height="14.79" fill="#026b4f"/>
<rect x="313.312" y="409.20" width="2.436" height="14.79" fill="#026b4f"/>
<rect x="366.904" y="409.20" width="7.308" height="14.79" fill="#bdbdc1"/>
<rect x="89.200" y="423.99" width="14.616" height="14.79" fill="#026b4f"/>
<rect x="115.996" y="423.99" width="9.744" height="14.79" fill="#bdbdc1"/>
<rect x="237.796" y="423.99" width="2.436" height="14.79" fill="#bdbdc1"/>
<rect x="310.876" y="423.99" width="2.436" height="14.79" fill="#bdbdc1"/>
<rect x="359.596" y="423.99" width="14.616" height="14.79" fill="#bdbdc1"/>
<rect x="89.200" y="438.78" width="7.308" height="14.79" fill="#026b4f"/>
<rect x="103.816" y="438.78" width="4.872" height="14.79" fill="#026b4f"/>
<rect x="115.996" y="438.78" width="4.872" height="14.79" fill="#026b4f"/>
<rect x="125.740" y="438.78" width="53.592" height="14.79" fill="#026b4f"/>
<rect x="203.692" y="438.78" width="2.436" height="14.79" fill="#026b4f"/>
<rect x="237.796" y="438.78" width="48.720" height="14.79" fill="#026b4f"/>
<rect x="310.876" y="438.78" width="2.436" height="14.79" fill="#026b4f"/>
<rect x="315.748" y="438.78" width="26.796" height="14.79" fill="#026b4f"/>
<rect x="359.596" y="438.78" width="4.872" height="14.79" fill="#026b4f"/>
<rect x="366.904" y="438.78" width="7.308" height="14.79" fill="#bdbdc1"/>
<rect x="115.996" y="453.57" width="2.436" height="14.79" fill="#026b4f"/>
<rect x="125.740" y="453.57" width="7.308" height="14.79" fill="#026b4f"/>
<rect x="179.332" y="453.57" width="2.436" height="14.79" fill="#026b4f"/>
<rect x="206.128" y="453.57" width="4.872" height="14.79" fill="#026b4f"/>
<rect x="240.232" y="453.57" width="24.360" height="14.79" fill="#026b4f"/>
<rect x="286.516" y="453.57" width="7.308" height="14.79" fill="#026b4f"/>
<rect x="310.876" y="453.57" width="2.436" height="14.79" fill="#026b4f"/>
<rect x="315.748" y="453.57" width="9.744" height="14.79" fill="#026b4f"/>
<rect x="342.544" y="453.57" width="2.436" height="14.79" fill="#026b4f"/>
<rect x="366.904" y="453.57" width="4.872" height="14.79" fill="#bdbdc1"/>
<rect x="371.776" y="453.57" width="2.436" height="14.79" fill="#026b4f"/>
<rect x="103.816" y="468.36" width="2.436" height="14.79" fill="#026b4f"/>
<rect x="264.592" y="468.36" width="7.308" height="14.79" fill="#026b4f"/>
<rect x="293.824" y="468.36" width="4.872" height="14.79" fill="#026b4f"/>
<rect x="325.492" y="468.36" width="4.872" height="14.79" fill="#026b4f"/>
<rect x="359.596" y="468.36" width="2.436" height="14.79" fill="#026b4f"/>
<rect x="366.904" y="468.36" width="7.308" height="14.79" fill="#bdbdc1"/>
<rect x="115.996" y="483.15" width="2.436" height="14.79" fill="#8279c2"/>
<rect x="125.740" y="483.15" width="2.436" height="14.79" fill="#8279c2"/>
<rect x="133.048" y="483.15" width="2.436" height="14.79" fill="#8279c2"/>
<rect x="181.768" y="483.15" width="2.436" height="14.79" fill="#8279c2"/>
<rect x="211.000" y="483.15" width="9.744" height="14.79" fill="#8279c2"/>
<rect x="264.592" y="483.15" width="2.436" height="14.79" fill="#8279c2"/>
<rect x="271.900" y="483.15" width="2.436" height="14.79" fill="#8279c2"/>
<rect x="298.696" y="483.15" width="2.436" height="14.79" fill="#8279c2"/>
<rect x="310.876" y="483.15" width="7.308" height="14.79" fill="#8279c2"/>
<rect x="330.364" y="483.15" width="9.744" height="14.79" fill="#8279c2"/>
<rect x="344.980" y="483.15" width="2.436" height="14.79" fill="#8279c2"/>
<rect x="369.340" y="483.15" width="2.436" height="14.79" fill="#bdbdc1"/>
<rect x="371.776" y="483.15" width="2.436" height="14.79" fill="#8279c2"/>
<rect x="96.508" y="497.94" width="2.436" height="14.79" fill="#8279c2"/>
<rect x="128.176" y="497.94" width="2.436" height="14.79" fill="#8279c2"/>
<rect x="135.484" y="497.94" width="2.436" height="14.79" fill="#8279c2"/>
<rect x="220.744" y="497.94" width="2.436" height="14.79" fill="#8279c2"/>
<rect x="240.232" y="497.94" width="2.436" height="14.79" fill="#8279c2"/>
<rect x="264.592" y="497.94" width="4.872" height="14.79" fill="#8279c2"/>
<rect x="271.900" y="497.94" width="4.872" height="14.79" fill="#8279c2"/>
<rect x="293.824" y="497.94" width="4.872" height="14.79" fill="#8279c2"/>
<rect x="318.184" y="497.94" width="4.872" height="14.79" fill="#8279c2"/>
<rect x="325.492" y="497.94" width="7.308" height="14.79" fill="#8279c2"/>
<rect x="347.416" y="497.94" width="4.872" height="14.79" fill="#8279c2"/>
<rect x="359.596" y="497.94" width="2.436" height="14.79" fill="#8279c2"/>
<rect x="369.340" y="497.94" width="2.436" height="14.79" fill="#bdbdc1"/>
<rect x="89.200" y="512.73" width="2.436" height="14.79" fill="#8279c2"/>
<rect x="135.484" y="512.73" width="9.744" height="14.79" fill="#8279c2"/>
<rect x="179.332" y="512.73" width="2.436" height="14.79" fill="#8279c2"/>
<rect x="184.204" y="512.73" width="9.744" height="14.79" fill="#8279c2"/>
<rect x="237.796" y="512.73" width="2.436" height="14.79" fill="#8279c2"/>
<rect x="242.668" y="512.73" width="2.436" height="14.79" fill="#8279c2"/>
<rect x="276.772" y="512.73" width="2.436" height="14.79" fill="#8279c2"/>
<rect x="286.516" y="512.73" width="2.436" height="14.79" fill="#8279c2"/>
<rect x="301.132" y="512.73" width="2.436" height="14.79" fill="#8279c2"/>
<rect x="325.492" y="512.73" width="2.436" height="14.79" fill="#8279c2"/>
<rect x="347.416" y="512.73" width="2.436" height="14.79" fill="#8279c2"/>
<rect x="352.288" y="512.73" width="2.436" height="14.79" fill="#8279c2"/>
<rect x="369.340" y="512.73" width="2.436" height="14.79" fill="#bdbdc1"/>
<rect x="115.996" y="527.52" width="2.436" height="14.79" fill="#8279c2"/>
<rect x="118.432" y="527.52" width="2.436" height="14.79" fill="#bdbdc1"/>
<rect x="125.740" y="527.52" width="4.872" height="14.79" fill="#8279c2"/>
<rect x="179.332" y="527.52" width="2.436" height="14.79" fill="#8279c2"/>
<rect x="193.948" y="527.52" width="2.436" height="14.79" fill="#8279c2"/>
<rect x="223.180" y="527.52" width="2.436" height="14.79" fill="#8279c2"/>
<rect x="235.360" y="527.52" width="2.436" height="14.79" fill="#bdbdc1"/>
<rect x="245.104" y="527.52" width="2.436" height="14.79" fill="#8279c2"/>
<rect x="279.208" y="527.52" width="2.436" height="14.79" fill="#8279c2"/>
<rect x="303.568" y="527.52" width="4.872" height="14.79" fill="#8279c2"/>
<rect x="315.748" y="527.52" width="2.436" height="14.79" fill="#8279c2"/>
<rect x="323.056" y="527.52" width="2.436" height="14.79" fill="#8279c2"/>
<rect x="342.544" y="527.52" width="2.436" height="14.79" fill="#8279c2"/>
<rect x="364.468" y="527.52" width="2.436" height="14.79" fill="#8279c2"/>
<rect x="369.340" y="527.52" width="2.436" height="14.79" fill="#bdbdc1"/>
<rect x="106.252" y="542.31" width="2.436" height="14.79" fill="#bdbdc1"/>
<rect x="120.868" y="542.31" width="4.872" height="14.79" fill="#bdbdc1"/>
<rect x="142.792" y="542.31" width="2.436" height="14.79" fill="#bdbdc1"/>
<rect x="191.512" y="542.31" width="2.436" height="14.79" fill="#bdbdc1"/>
<rect x="276.772" y="542.31" width="2.436" height="14.79" fill="#bdbdc1"/>
<rect x="281.644" y="542.31" width="2.436" height="14.79" fill="#8279c2"/>
<rect x="291.388" y="542.31" width="2.436" height="14.79" fill="#bdbdc1"/>
<rect x="308.440" y="542.31" width="4.872" height="14.79" fill="#8279c2"/>
<rect x="318.184" y="542.31" width="2.436" height="14.79" fill="#8279c2"/>
<rect x="340.108" y="542.31" width="2.436" height="14.79" fill="#8279c2"/>
<rect x="349.852" y="542.31" width="2.436" height="14.79" fill="#8279c2"/>
<rect x="352.288" y="542.31" width="2.436" height="14.79" fill="#bdbdc1"/>
<rect x="354.724" y="542.31" width="2.436" height="14.79" fill="#8279c2"/>
<rect x="359.596" y="542.31" width="14.616" height="14.79" fill="#8279c2"/>
<rect x="191.512" y="557.10" width="4.872" height="14.79" fill="#8279c2"/>
<rect x="206.128" y="557.10" width="2.436" height="14.79" fill="#8279c2"/>
<rect x="235.360" y="557.10" width="2.436" height="14.79" fill="#8279c2"/>
<rect x="245.104" y="557.10" width="7.308" height="14.79" fill="#8279c2"/>
<rect x="325.492" y="557.10" width="2.436" height="14.79" fill="#8279c2"/>
<rect x="369.340" y="557.10" width="2.436" height="14.79" fill="#bdbdc1"/>
<rect x="118.432" y="571.89" width="2.436" height="14.79" fill="#bdbdc1"/>
<rect x="203.692" y="571.89" width="2.436" height="14.79" fill="#8279c2"/>
<rect x="225.616" y="571.89" width="2.436" height="14.79" fill="#8279c2"/>
<rect x="235.360" y="571.89" width="2.436" height="14.79" fill="#bdbdc1"/>
<rect x="252.412" y="571.89" width="4.872" height="14.79" fill="#8279c2"/>
<rect x="271.900" y="571.89" width="2.436" height="14.79" fill="#8279c2"/>
<rect x="332.800" y="571.89" width="2.436" height="14.79" fill="#8279c2"/>
<rect x="349.852" y="571.89" width="2.436" height="14.79" fill="#8279c2"/>
<rect x="369.340" y="571.89" width="2.436" height="14.79" fill="#bdbdc1"/>
<rect x="108.688" y="586.68" width="2.436" height="14.79" fill="#8279c2"/>
<rect x="118.432" y="586.68" width="2.436" height="14.79" fill="#bdbdc1"/>
<rect x="145.228" y="586.68" width="2.436" height="14.79" fill="#8279c2"/>
<rect x="203.692" y="586.68" width="2.436" height="14.79" fill="#8279c2"/>
<rect x="225.616" y="586.68" width="2.436" height="14.79" fill="#8279c2"/>
<rect x="235.360" y="586.68" width="2.436" height="14.79" fill="#bdbdc1"/>
<rect x="271.900" y="586.68" width="2.436" height="14.79" fill="#8279c2"/>
<rect x="303.568" y="586.68" width="2.436" height="14.79" fill="#8279c2"/>
<rect x="369.340" y="586.68" width="2.436" height="14.79" fill="#bdbdc1"/>
<rect x="118.432" y="601.47" width="2.436" height="14.79" fill="#bdbdc1"/>
<rect x="228.052" y="601.47" width="7.308" height="14.79" fill="#8279c2"/>
<rect x="235.360" y="601.47" width="2.436" height="14.79" fill="#bdbdc1"/>
<rect x="274.336" y="601.47" width="2.436" height="14.79" fill="#8279c2"/>
<rect x="284.080" y="601.47" width="2.436" height="14.79" fill="#8279c2"/>
<rect x="366.904" y="601.47" width="4.872" height="14.79" fill="#bdbdc1"/>
<path d="M89.200,409.20V616.26M91.636,409.20V616.26M94.072,409.20V616.26M96.508,409.20V616.26M98.944,409.20V616.26M101.380,409.20V616.26M103.816,409.20V616.26M106.252,409.20V616.26M108.688,409.20V616.26M111.124,409.20V616.26M113.560,409.20V616.26M115.996,409.20V616.26M118.432,409.20V616.26M120.868,409.20V616.26M123.304,409.20V616.26M125.740,409.20V616.26M128.176,409.20V616.26M130.612,409.20V616.26M133.048,409.20V616.26M135.484,409.20V616.26M137.920,409.20V616.26M140.356,409.20V616.26M142.792,409.20V616.26M145.228,409.20V616.26M147.664,409.20V616.26M150.100,409.20V616.26M152.536,409.20V616.26M154.972,409.20V616.26M157.408,409.20V616.26M159.844,409.20V616.26M162.280,409.20V616.26M164.716,409.20V616.26M167.152,409.20V616.26M169.588,409.20V616.26M172.024,409.20V616.26M174.460,409.20V616.26M176.896,409.20V616.26M179.332,409.20V616.26M181.768,409.20V616.26M184.204,409.20V616.26M186.640,409.20V616.26M189.076,409.20V616.26M191.512,409.20V616.26M193.948,409.20V616.26M196.384,409.20V616.26M198.820,409.20V616.26M201.256,409.20V616.26M203.692,409.20V616.26M206.128,409.20V616.26M208.564,409.20V616.26M211.000,409.20V616.26M213.436,409.20V616.26M215.872,409.20V616.26M218.308,409.20V616.26M220.744,409.20V616.26M223.180,409.20V616.26M225.616,409.20V616.26M228.052,409.20V616.26M230.488,409.20V616.26M232.924,409.20V616.26M235.360,409.20V616.26M237.796,409.20V616.26M240.232,409.20V616.26M242.668,409.20V616.26M245.104,409.20V616.26M247.540,409.20V616.26M249.976,409.20V616.26M252.412,409.20V616.26M254.848,409.20V616.26M257.284,409.20V616.26M259.720,409.20V616.26M262.156,409.20V616.26M264.592,409.20V616.26M267.028,409.20V616.26M269.464,409.20V616.26M271.900,409.20V616.26M274.336,409.20V616.26M276.772,409.20V616.26M279.208,409.20V616.26M281.644,409.20V616.26M284.080,409.20V616.26M286.516,409.20V616.26M288.952,409.20V616.26M291.388,409.20V616.26M293.824,409.20V616.26M296.260,409.20V616.26M298.696,409.20V616.26M301.132,409.20V616.26M303.568,409.20V616.26M306.004,409.20V616.26M308.440,409.20V616.26M310.876,409.20V616.26M313.312,409.20V616.26M315.748,409.20V616.26M318.184,409.20V616.26M320.620,409.20V616.26M323.056,409.20V616.26M325.492,409.20V616.26M327.928,409.20V616.26M330.364,409.20V616.26M332.800,409.20V616.26M335.236,409.20V616.26M337.672,409.20V616.26M340.108,409.20V616.26M342.544,409.20V616.26M344.980,409.20V616.26M347.416,409.20V616.26M349.852,409.20V616.26M352.288,409.20V616.26M354.724,409.20V616.26M357.160,409.20V616.26M359.596,409.20V616.26M362.032,409.20V616.26M364.468,409.20V616.26M366.904,409.20V616.26M369.340,409.20V616.26M371.776,409.20V616.26M374.212,409.20V616.26M89.200,409.20H374.212M89.200,423.99H374.212M89.200,438.78H374.212M89.200,453.57H374.212M89.200,468.36H374.212M89.200,483.15H374.212M89.200,497.94H374.212M89.200,512.73H374.212M89.200,527.52H374.212M89.200,542.31H374.212M89.200,557.10H374.212M89.200,571.89H374.212M89.200,586.68H374.212M89.200,601.47H374.212M89.200,616.26H374.212" stroke="#d8d8d8" stroke-width="0.5" fill="none"/>
<text x="86.10" y="370.20" font-size="7.9" text-anchor="end" font-weight="bold" font-style="normal" fill="#222">Age</text>
<text x="86.10" y="381.80" font-size="7.9" text-anchor="end" font-weight="bold" font-style="normal" fill="#222">Sex</text>
<text x="86.10" y="393.70" font-size="7.9" text-anchor="end" font-weight="bold" font-style="normal" fill="#222">Cohort</text>
<text x="86.10" y="405.10" font-size="7.9" text-anchor="end" font-weight="bold" font-style="normal" fill="#222">IGHV</text>
<text x="32.10" y="419.09" font-size="7.9" text-anchor="start" font-weight="normal" font-style="normal" fill="#1e1e1e" stroke="#1e1e1e" stroke-width="0.12" textLength="53.90" lengthAdjust="spacingAndGlyphs">Trisomy 12 [31]</text>
<text x="36.80" y="433.88" font-size="7.9" text-anchor="start" font-weight="normal" font-style="normal" fill="#1e1e1e" stroke="#1e1e1e" stroke-width="0.12" textLength="49.20" lengthAdjust="spacingAndGlyphs">Trisomy 19 [6]</text>
<text x="26.60" y="448.67" font-size="7.9" text-anchor="start" font-weight="normal" font-style="normal" fill="#1e1e1e" stroke="#1e1e1e" stroke-width="0.12" textLength="59.40" lengthAdjust="spacingAndGlyphs">Del(13)(q14) [64]</text>
<text x="20.30" y="463.46" font-size="7.9" text-anchor="start" font-weight="normal" font-style="normal" fill="#1e1e1e" stroke="#1e1e1e" stroke-width="0.12" textLength="65.70" lengthAdjust="spacingAndGlyphs">Del(11)(q22.3) [27]</text>
<text x="31.00" y="478.25" font-size="7.9" text-anchor="start" font-weight="normal" font-style="normal" fill="#1e1e1e" stroke="#1e1e1e" stroke-width="0.12" textLength="55.00" lengthAdjust="spacingAndGlyphs">Del(17)(p13) [9]</text>
<text x="38.90" y="493.04" font-size="7.9" fill="#1e1e1e" stroke="#1e1e1e" stroke-width="0.12" textLength="47.10" lengthAdjust="spacingAndGlyphs"><tspan font-style="italic">NOTCH1</tspan> [20]</text>
<text x="52.60" y="507.83" font-size="7.9" fill="#1e1e1e" stroke="#1e1e1e" stroke-width="0.12" textLength="33.40" lengthAdjust="spacingAndGlyphs"><tspan font-style="italic">TP53</tspan> [19]</text>
<text x="45.00" y="522.62" font-size="7.9" fill="#1e1e1e" stroke="#1e1e1e" stroke-width="0.12" textLength="38.80" lengthAdjust="spacingAndGlyphs"><tspan font-style="italic">SF3B1</tspan> [18]</text>
<text x="55.40" y="537.41" font-size="7.9" fill="#1e1e1e" stroke="#1e1e1e" stroke-width="0.12" textLength="30.60" lengthAdjust="spacingAndGlyphs"><tspan font-style="italic">ATM</tspan> [14]</text>
<text x="61.30" y="552.20" font-size="7.9" fill="#1e1e1e" stroke="#1e1e1e" stroke-width="0.12" textLength="24.70" lengthAdjust="spacingAndGlyphs"><tspan font-style="italic">U1</tspan> [13]</text>
<text x="55.00" y="567.00" font-size="7.9" fill="#1e1e1e" stroke="#1e1e1e" stroke-width="0.12" textLength="31.00" lengthAdjust="spacingAndGlyphs"><tspan font-style="italic">BRAF</tspan> [8]</text>
<text x="49.10" y="581.78" font-size="7.9" fill="#1e1e1e" stroke="#1e1e1e" stroke-width="0.12" textLength="36.90" lengthAdjust="spacingAndGlyphs"><tspan font-style="italic">DDX3X</tspan> [7]</text>
<text x="53.80" y="596.58" font-size="7.9" fill="#1e1e1e" stroke="#1e1e1e" stroke-width="0.12" textLength="32.20" lengthAdjust="spacingAndGlyphs"><tspan font-style="italic">EGR2</tspan> [6]</text>
<text x="47.10" y="611.37" font-size="7.9" fill="#1e1e1e" stroke="#1e1e1e" stroke-width="0.12" textLength="36.70" lengthAdjust="spacingAndGlyphs"><tspan font-style="italic">MED12</tspan> [5]</text>
<text x="385.00" y="408.70" font-size="8.4" text-anchor="start" font-weight="normal" font-style="normal" fill="#262626" stroke="#262626" stroke-width="0.1">Cohort</text>
<rect x="385.20" y="414.10" width="13.00" height="13.40" fill="#f6901f" stroke="#333" stroke-width="0.7"/>
<rect x="385.20" y="428.40" width="13.00" height="13.40" fill="#11508a" stroke="#333" stroke-width="0.7"/>
<text x="402.20" y="423.30" font-size="7.2" text-anchor="start" font-weight="normal" font-style="normal" fill="#262626" stroke="#262626" stroke-width="0.1">Main</text>
<text x="402.20" y="437.40" font-size="7.2" text-anchor="start" font-weight="normal" font-style="normal" fill="#262626" stroke="#262626" stroke-width="0.1">Additional</text>
<text x="385.10" y="459.60" font-size="8.4" text-anchor="start" font-weight="normal" font-style="normal" fill="#262626" stroke="#262626" stroke-width="0.1">Age</text>
<rect x="385.1" y="464.1" width="12.8" height="10.90" fill="#a6bd8c"/>
<rect x="385.1" y="475.0" width="12.8" height="10.90" fill="#58c06a"/>
<rect x="385.1" y="485.9" width="12.8" height="10.90" fill="#35b04b"/>
<rect x="385.1" y="496.8" width="12.8" height="10.90" fill="#2a7b6a"/>
<rect x="385.1" y="507.7" width="12.8" height="10.90" fill="#3f6fa0"/>
<rect x="385.1" y="518.6" width="12.8" height="10.90" fill="#5a2570"/>
<text x="400.50" y="472.00" font-size="7.2" text-anchor="start" font-weight="normal" font-style="normal" fill="#262626" stroke="#262626" stroke-width="0.1">80</text>
<text x="400.50" y="485.70" font-size="7.2" text-anchor="start" font-weight="normal" font-style="normal" fill="#262626" stroke="#262626" stroke-width="0.1">70</text>
<text x="400.50" y="499.40" font-size="7.2" text-anchor="start" font-weight="normal" font-style="normal" fill="#262626" stroke="#262626" stroke-width="0.1">60</text>
<text x="400.50" y="513.00" font-size="7.2" text-anchor="start" font-weight="normal" font-style="normal" fill="#262626" stroke="#262626" stroke-width="0.1">50</text>
<text x="400.50" y="526.60" font-size="7.2" text-anchor="start" font-weight="normal" font-style="normal" fill="#262626" stroke="#262626" stroke-width="0.1">40</text>
<text x="385.00" y="542.20" font-size="8.4" text-anchor="start" font-weight="normal" font-style="normal" fill="#262626" stroke="#262626" stroke-width="0.1">Sex</text>
<rect x="385.20" y="547.60" width="13.00" height="12.80" fill="#8880c4" stroke="#333" stroke-width="0.7"/>
<rect x="385.20" y="560.40" width="13.00" height="13.00" fill="#f9bb1e" stroke="#333" stroke-width="0.7"/>
<text x="400.90" y="556.30" font-size="7.2" text-anchor="start" font-weight="normal" font-style="normal" fill="#262626" stroke="#262626" stroke-width="0.1">Female</text>
<text x="400.90" y="569.10" font-size="7.2" text-anchor="start" font-weight="normal" font-style="normal" fill="#262626" stroke="#262626" stroke-width="0.1">Male</text>
<text x="434.50" y="459.50" font-size="8.4" text-anchor="start" font-weight="normal" font-style="normal" fill="#262626" stroke="#262626" stroke-width="0.1">IGHV</text>
<rect x="434.40" y="464.20" width="11.80" height="12.00" fill="#231f20" stroke="#333" stroke-width="0.7"/>
<rect x="434.40" y="476.20" width="11.80" height="11.50" fill="#ffffff" stroke="#333" stroke-width="0.7"/>
<rect x="434.40" y="487.70" width="11.80" height="11.50" fill="#bcbcc0" stroke="#333" stroke-width="0.7"/>
<text x="448.80" y="472.60" font-size="7.2" text-anchor="start" font-weight="normal" font-style="normal" fill="#262626" stroke="#262626" stroke-width="0.1">M</text>
<text x="448.80" y="484.60" font-size="7.2" text-anchor="start" font-weight="normal" font-style="normal" fill="#262626" stroke="#262626" stroke-width="0.1">U</text>
<text x="448.80" y="495.70" font-size="7.2" text-anchor="start" font-weight="normal" font-style="normal" fill="#262626" stroke="#262626" stroke-width="0.1">NA</text>
<text x="434.50" y="512.30" font-size="8.4" text-anchor="start" font-weight="normal" font-style="normal" fill="#262626" stroke="#262626" stroke-width="0.1" textLength="43.00" lengthAdjust="spacingAndGlyphs">Aberrations</text>
<rect x="434.40" y="516.90" width="11.80" height="11.60" fill="#ffffff" stroke="#333" stroke-width="0.7"/>
<rect x="434.40" y="528.50" width="11.80" height="12.00" fill="#026b4f" stroke="#333" stroke-width="0.7"/>
<rect x="434.40" y="540.50" width="11.80" height="11.80" fill="#8279c2" stroke="#333" stroke-width="0.7"/>
<rect x="434.40" y="552.30" width="11.80" height="11.50" fill="#bdbdc1" stroke="#333" stroke-width="0.7"/>
<text x="448.80" y="524.90" font-size="7.2" text-anchor="start" font-weight="normal" font-style="normal" fill="#262626" stroke="#262626" stroke-width="0.1">WT</text>
<text x="448.80" y="536.50" font-size="7.2" text-anchor="start" font-weight="normal" font-style="normal" fill="#262626" stroke="#262626" stroke-width="0.1">CNA</text>
<text x="448.80" y="548.50" font-size="7.2" text-anchor="start" font-weight="normal" font-style="normal" fill="#262626" stroke="#262626" stroke-width="0.1" textLength="48.10" lengthAdjust="spacingAndGlyphs">Gene mutation</text>
<text x="448.80" y="560.00" font-size="7.2" text-anchor="start" font-weight="normal" font-style="normal" fill="#262626" stroke="#262626" stroke-width="0.1">NA</text>
</g>
<rect x="0.5" y="0.5" width="519" height="623" fill="none" stroke="#1a1718" stroke-width="1.2"/>
</svg>
</body></html>
